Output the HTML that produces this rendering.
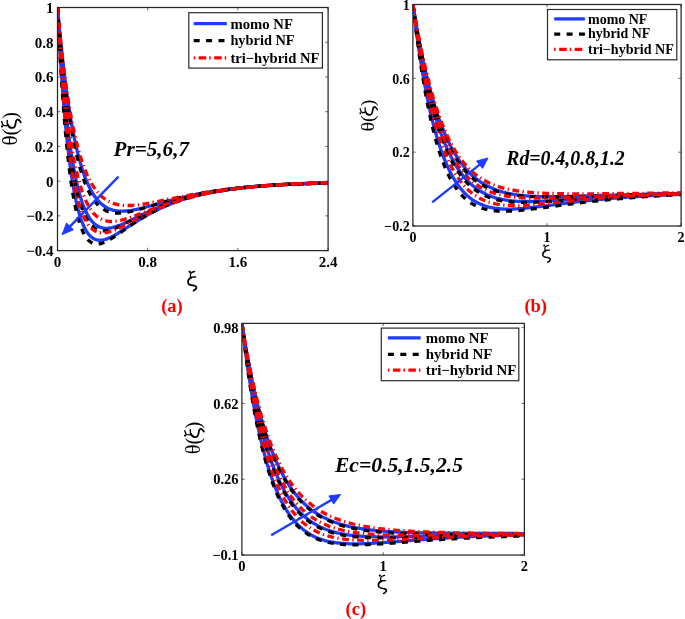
<!DOCTYPE html>
<html><head><meta charset="utf-8"><title>theta profiles</title>
<style>
html,body{margin:0;padding:0;background:#fff;}
body{width:685px;height:619px;overflow:hidden;}
svg{display:block;font-family:"Liberation Serif",serif;will-change:transform;}
</style></head>
<body>
<svg width="685" height="619" viewBox="0 0 685 619">
<rect width="685" height="619" fill="#fff"/>
<defs><clipPath id="ca"><rect x="57.5" y="4.5" width="270.6" height="246.1"/></clipPath><clipPath id="cb"><rect x="412.9" y="1.5" width="268.20000000000005" height="224.5"/></clipPath><clipPath id="cc"><rect x="241.9" y="320.4" width="282.5" height="234.64999999999998"/></clipPath></defs>
<g clip-path="url(#ca)" fill="none">
<polyline points="57.5,7.5 57.8,10.7 58.1,13.9 58.4,17.1 58.6,20.2 58.9,23.3 59.2,26.3 59.5,29.3 59.8,32.2 60.1,35.1 60.3,38.0 60.6,40.8 60.9,43.6 61.2,46.3 61.5,49.0 61.8,51.7 62.0,54.3 62.3,56.9 62.6,59.5 62.9,62.0 63.2,64.5 63.5,66.9 63.7,69.3 64.0,71.7 64.3,74.0 64.6,76.3 64.9,78.6 65.2,80.9 65.4,83.1 65.7,85.2 66.0,87.4 66.3,89.5 66.6,91.6 66.9,93.6 67.1,95.7 67.4,97.7 67.7,99.6 68.0,101.6 68.3,103.5 68.6,105.4 68.8,107.2 69.1,109.0 69.4,110.8 69.7,112.6 70.0,114.3 70.3,116.1 70.5,117.8 70.8,119.4 71.1,121.1 71.4,122.7 71.7,124.3 72.0,125.9 72.2,127.4 72.5,128.9 72.8,130.4 73.1,131.9 73.4,133.4 73.7,134.8 74.0,136.2 74.2,137.6 74.5,139.0 74.8,140.3 75.1,141.7 75.4,143.0 75.7,144.3 75.9,145.5 76.2,146.8 76.5,148.0 76.8,149.2 77.1,150.4 77.4,151.6 77.6,152.7 77.9,153.9 78.2,155.0 78.5,156.1 78.8,157.2 79.1,158.3 79.3,159.3 79.6,160.3 79.9,161.4 80.2,162.4 80.5,163.3 80.8,164.3 81.0,165.3 81.3,166.2 81.6,167.1 81.9,168.0 82.2,168.9 82.5,169.8 82.7,170.7 83.0,171.5 83.3,172.4 83.6,173.2 83.9,174.0 84.2,174.8 84.4,175.6 84.7,176.3 85.0,177.1 85.3,177.8 85.6,178.6 85.9,179.3 86.1,180.0 86.4,180.7 86.7,181.4 87.0,182.0 87.3,182.7 87.6,183.4 87.9,184.0 88.1,184.6 88.4,185.2 88.7,185.8 89.0,186.4 89.3,187.0 89.6,187.6 89.8,188.1 90.1,188.7 90.4,189.2 90.7,189.8 91.0,190.3 91.3,190.8 91.5,191.3 91.8,191.8 92.1,192.3 92.4,192.8 92.7,193.2 93.0,193.7 93.2,194.2 93.5,194.6 93.8,195.0 94.1,195.5 94.4,195.9 94.7,196.3 94.9,196.7 95.2,197.1 95.5,197.5 95.8,197.8 96.1,198.2 96.4,198.6 96.6,198.9 96.9,199.3 97.2,199.6 97.5,200.0 97.8,200.3 98.1,200.6 98.3,200.9 98.6,201.2 98.9,201.5 99.2,201.8 99.5,202.1 99.8,202.4 100.0,202.7 100.3,202.9 100.6,203.2 100.9,203.5 101.2,203.7 101.5,204.0 101.7,204.2 102.0,204.5 102.3,204.7 102.6,204.9 104.5,206.3 106.4,207.4 108.3,208.4 110.2,209.2 112.1,209.8 114.0,210.3 115.9,210.7 117.8,211.0 119.7,211.1 121.5,211.2 123.4,211.1 125.3,211.0 127.2,210.9 129.1,210.6 131.0,210.4 132.9,210.1 134.8,209.7 136.7,209.3 138.6,208.9 140.5,208.5 142.4,208.0 144.3,207.5 146.2,207.0 148.1,206.5 150.0,206.0 151.9,205.5 153.8,205.0 155.7,204.4 157.6,203.9 159.4,203.4 161.3,202.9 163.2,202.3 165.1,201.8 167.0,201.3 168.9,200.8 170.8,200.3 172.7,199.8 174.6,199.3 176.5,198.9 178.4,198.4 180.3,197.9 182.2,197.5 184.1,197.0 186.0,196.6 187.9,196.2 189.8,195.8 191.7,195.3 193.6,195.0 195.5,194.6 197.3,194.2 199.2,193.8 201.1,193.5 203.0,193.1 204.9,192.8 206.8,192.4 208.7,192.1 210.6,191.8 212.5,191.5 214.4,191.2 216.3,190.9 218.2,190.6 220.1,190.3 222.0,190.1 223.9,189.8 225.8,189.6 227.7,189.3 229.6,189.1 231.5,188.8 233.4,188.6 235.2,188.4 237.1,188.2 239.0,188.0 240.9,187.8 242.8,187.6 244.7,187.4 246.6,187.2 248.5,187.0 250.4,186.9 252.3,186.7 254.2,186.5 256.1,186.4 258.0,186.2 259.9,186.1 261.8,185.9 263.7,185.8 265.6,185.7 267.5,185.5 269.4,185.4 271.3,185.3 273.1,185.2 275.0,185.0 276.9,184.9 278.8,184.8 280.7,184.7 282.6,184.6 284.5,184.5 286.4,184.4 288.3,184.3 290.2,184.2 292.1,184.1 294.0,184.1 295.9,184.0 297.8,183.9 299.7,183.8 301.6,183.7 303.5,183.7 305.4,183.6 307.3,183.5 309.2,183.5 311.0,183.4 312.9,183.3 314.8,183.3 316.7,183.2 318.6,183.1 320.5,183.1 322.4,183.0 324.3,183.0 326.2,182.9 328.1,182.9" stroke="#1e3cff" stroke-width="3.3"/>
<polyline points="57.5,7.5 57.8,12.0 58.1,16.4 58.4,20.8 58.6,25.0 58.9,29.2 59.2,33.3 59.5,37.3 59.8,41.3 60.1,45.2 60.3,49.0 60.6,52.8 60.9,56.5 61.2,60.1 61.5,63.7 61.8,67.2 62.0,70.6 62.3,74.0 62.6,77.3 62.9,80.5 63.2,83.7 63.5,86.8 63.7,89.9 64.0,92.9 64.3,95.9 64.6,98.8 64.9,101.7 65.2,104.5 65.4,107.2 65.7,109.9 66.0,112.5 66.3,115.1 66.6,117.7 66.9,120.2 67.1,122.7 67.4,125.1 67.7,127.4 68.0,129.8 68.3,132.0 68.6,134.3 68.8,136.5 69.1,138.6 69.4,140.7 69.7,142.8 70.0,144.8 70.3,146.8 70.5,148.7 70.8,150.7 71.1,152.5 71.4,154.4 71.7,156.2 72.0,157.9 72.2,159.7 72.5,161.4 72.8,163.0 73.1,164.7 73.4,166.3 73.7,167.8 74.0,169.4 74.2,170.9 74.5,172.3 74.8,173.8 75.1,175.2 75.4,176.6 75.7,178.0 75.9,179.3 76.2,180.6 76.5,181.9 76.8,183.1 77.1,184.3 77.4,185.5 77.6,186.7 77.9,187.9 78.2,189.0 78.5,190.1 78.8,191.2 79.1,192.2 79.3,193.2 79.6,194.3 79.9,195.2 80.2,196.2 80.5,197.2 80.8,198.1 81.0,199.0 81.3,199.9 81.6,200.7 81.9,201.6 82.2,202.4 82.5,203.2 82.7,204.0 83.0,204.8 83.3,205.5 83.6,206.2 83.9,207.0 84.2,207.7 84.4,208.3 84.7,209.0 85.0,209.7 85.3,210.3 85.6,210.9 85.9,211.5 86.1,212.1 86.4,212.7 86.7,213.2 87.0,213.8 87.3,214.3 87.6,214.8 87.9,215.3 88.1,215.8 88.4,216.3 88.7,216.8 89.0,217.2 89.3,217.7 89.6,218.1 89.8,218.5 90.1,218.9 90.4,219.3 90.7,219.7 91.0,220.1 91.3,220.4 91.5,220.8 91.8,221.1 92.1,221.5 92.4,221.8 92.7,222.1 93.0,222.4 93.2,222.7 93.5,223.0 93.8,223.2 94.1,223.5 94.4,223.8 94.7,224.0 94.9,224.2 95.2,224.5 95.5,224.7 95.8,224.9 96.1,225.1 96.4,225.3 96.6,225.5 96.9,225.7 97.2,225.8 97.5,226.0 97.8,226.2 98.1,226.3 98.3,226.5 98.6,226.6 98.9,226.7 99.2,226.9 99.5,227.0 99.8,227.1 100.0,227.2 100.3,227.3 100.6,227.4 100.9,227.5 101.2,227.6 101.5,227.7 101.7,227.7 102.0,227.8 102.3,227.9 102.6,227.9 104.5,228.2 106.4,228.3 108.3,228.2 110.2,228.0 112.1,227.6 114.0,227.1 115.9,226.6 117.8,225.9 119.7,225.2 121.5,224.5 123.4,223.7 125.3,222.8 127.2,222.0 129.1,221.1 131.0,220.2 132.9,219.2 134.8,218.3 136.7,217.4 138.6,216.5 140.5,215.5 142.4,214.6 144.3,213.7 146.2,212.8 148.1,211.9 150.0,211.1 151.9,210.2 153.8,209.4 155.7,208.6 157.6,207.8 159.4,207.0 161.3,206.2 163.2,205.5 165.1,204.7 167.0,204.0 168.9,203.3 170.8,202.6 172.7,202.0 174.6,201.3 176.5,200.7 178.4,200.1 180.3,199.5 182.2,199.0 184.1,198.4 186.0,197.9 187.9,197.4 189.8,196.9 191.7,196.4 193.6,195.9 195.5,195.4 197.3,195.0 199.2,194.6 201.1,194.2 203.0,193.8 204.9,193.4 206.8,193.0 208.7,192.6 210.6,192.3 212.5,191.9 214.4,191.6 216.3,191.3 218.2,190.9 220.1,190.6 222.0,190.4 223.9,190.1 225.8,189.8 227.7,189.5 229.6,189.3 231.5,189.0 233.4,188.8 235.2,188.6 237.1,188.3 239.0,188.1 240.9,187.9 242.8,187.7 244.7,187.5 246.6,187.3 248.5,187.1 250.4,186.9 252.3,186.8 254.2,186.6 256.1,186.4 258.0,186.3 259.9,186.1 261.8,186.0 263.7,185.8 265.6,185.7 267.5,185.6 269.4,185.4 271.3,185.3 273.1,185.2 275.0,185.1 276.9,184.9 278.8,184.8 280.7,184.7 282.6,184.6 284.5,184.5 286.4,184.4 288.3,184.3 290.2,184.2 292.1,184.2 294.0,184.1 295.9,184.0 297.8,183.9 299.7,183.8 301.6,183.7 303.5,183.7 305.4,183.6 307.3,183.5 309.2,183.5 311.0,183.4 312.9,183.3 314.8,183.3 316.7,183.2 318.6,183.2 320.5,183.1 322.4,183.0 324.3,183.0 326.2,182.9 328.1,182.9" stroke="#1e3cff" stroke-width="3.3"/>
<polyline points="57.5,7.5 57.8,12.9 58.1,18.2 58.4,23.4 58.6,28.4 58.9,33.4 59.2,38.3 59.5,43.1 59.8,47.8 60.1,52.3 60.3,56.8 60.6,61.2 60.9,65.5 61.2,69.8 61.5,73.9 61.8,77.9 62.0,81.9 62.3,85.8 62.6,89.6 62.9,93.3 63.2,97.0 63.5,100.5 63.7,104.0 64.0,107.5 64.3,110.8 64.6,114.1 64.9,117.3 65.2,120.4 65.4,123.5 65.7,126.5 66.0,129.5 66.3,132.4 66.6,135.2 66.9,138.0 67.1,140.7 67.4,143.3 67.7,145.9 68.0,148.4 68.3,150.9 68.6,153.3 68.8,155.7 69.1,158.0 69.4,160.3 69.7,162.5 70.0,164.6 70.3,166.8 70.5,168.8 70.8,170.9 71.1,172.8 71.4,174.8 71.7,176.7 72.0,178.5 72.2,180.3 72.5,182.1 72.8,183.8 73.1,185.5 73.4,187.1 73.7,188.7 74.0,190.3 74.2,191.8 74.5,193.3 74.8,194.8 75.1,196.2 75.4,197.6 75.7,199.0 75.9,200.3 76.2,201.6 76.5,202.8 76.8,204.1 77.1,205.3 77.4,206.4 77.6,207.6 77.9,208.7 78.2,209.8 78.5,210.8 78.8,211.9 79.1,212.9 79.3,213.8 79.6,214.8 79.9,215.7 80.2,216.6 80.5,217.5 80.8,218.3 81.0,219.2 81.3,220.0 81.6,220.8 81.9,221.5 82.2,222.3 82.5,223.0 82.7,223.7 83.0,224.4 83.3,225.0 83.6,225.7 83.9,226.3 84.2,226.9 84.4,227.5 84.7,228.1 85.0,228.6 85.3,229.2 85.6,229.7 85.9,230.2 86.1,230.7 86.4,231.1 86.7,231.6 87.0,232.0 87.3,232.4 87.6,232.9 87.9,233.3 88.1,233.6 88.4,234.0 88.7,234.4 89.0,234.7 89.3,235.0 89.6,235.3 89.8,235.7 90.1,235.9 90.4,236.2 90.7,236.5 91.0,236.8 91.3,237.0 91.5,237.2 91.8,237.5 92.1,237.7 92.4,237.9 92.7,238.1 93.0,238.3 93.2,238.4 93.5,238.6 93.8,238.8 94.1,238.9 94.4,239.0 94.7,239.2 94.9,239.3 95.2,239.4 95.5,239.5 95.8,239.6 96.1,239.7 96.4,239.8 96.6,239.9 96.9,239.9 97.2,240.0 97.5,240.1 97.8,240.1 98.1,240.1 98.3,240.2 98.6,240.2 98.9,240.2 99.2,240.2 99.5,240.3 99.8,240.3 100.0,240.3 100.3,240.3 100.6,240.2 100.9,240.2 101.2,240.2 101.5,240.2 101.7,240.2 102.0,240.1 102.3,240.1 102.6,240.0 104.5,239.6 106.4,239.1 108.3,238.3 110.2,237.5 112.1,236.6 114.0,235.6 115.9,234.5 117.8,233.4 119.7,232.2 121.5,231.0 123.4,229.8 125.3,228.6 127.2,227.4 129.1,226.1 131.0,224.9 132.9,223.7 134.8,222.5 136.7,221.3 138.6,220.1 140.5,219.0 142.4,217.8 144.3,216.7 146.2,215.7 148.1,214.6 150.0,213.6 151.9,212.6 153.8,211.6 155.7,210.6 157.6,209.7 159.4,208.8 161.3,207.9 163.2,207.0 165.1,206.2 167.0,205.4 168.9,204.6 170.8,203.9 172.7,203.1 174.6,202.4 176.5,201.7 178.4,201.1 180.3,200.4 182.2,199.8 184.1,199.2 186.0,198.6 187.9,198.0 189.8,197.5 191.7,197.0 193.6,196.4 195.5,196.0 197.3,195.5 199.2,195.0 201.1,194.6 203.0,194.1 204.9,193.7 206.8,193.3 208.7,192.9 210.6,192.5 212.5,192.2 214.4,191.8 216.3,191.5 218.2,191.1 220.1,190.8 222.0,190.5 223.9,190.2 225.8,189.9 227.7,189.6 229.6,189.4 231.5,189.1 233.4,188.8 235.2,188.6 237.1,188.4 239.0,188.1 240.9,187.9 242.8,187.7 244.7,187.5 246.6,187.3 248.5,187.1 250.4,186.9 252.3,186.7 254.2,186.6 256.1,186.4 258.0,186.2 259.9,186.1 261.8,185.9 263.7,185.8 265.6,185.6 267.5,185.5 269.4,185.4 271.3,185.2 273.1,185.1 275.0,185.0 276.9,184.9 278.8,184.8 280.7,184.7 282.6,184.5 284.5,184.4 286.4,184.3 288.3,184.3 290.2,184.2 292.1,184.1 294.0,184.0 295.9,183.9 297.8,183.8 299.7,183.7 301.6,183.7 303.5,183.6 305.4,183.5 307.3,183.5 309.2,183.4 311.0,183.3 312.9,183.3 314.8,183.2 316.7,183.1 318.6,183.1 320.5,183.0 322.4,183.0 324.3,182.9 326.2,182.9 328.1,182.8" stroke="#1e3cff" stroke-width="3.3"/>
<polyline points="57.5,7.5 57.8,11.0 58.1,14.4 58.4,17.8 58.6,21.1 58.9,24.4 59.2,27.6 59.5,30.7 59.8,33.9 60.1,37.0 60.3,40.0 60.6,43.0 60.9,45.9 61.2,48.8 61.5,51.7 61.8,54.5 62.0,57.3 62.3,60.0 62.6,62.7 62.9,65.4 63.2,68.0 63.5,70.5 63.7,73.1 64.0,75.6 64.3,78.0 64.6,80.4 64.9,82.8 65.2,85.2 65.4,87.5 65.7,89.7 66.0,92.0 66.3,94.2 66.6,96.4 66.9,98.5 67.1,100.6 67.4,102.7 67.7,104.7 68.0,106.7 68.3,108.7 68.6,110.6 68.8,112.6 69.1,114.4 69.4,116.3 69.7,118.1 70.0,119.9 70.3,121.7 70.5,123.4 70.8,125.1 71.1,126.8 71.4,128.5 71.7,130.1 72.0,131.7 72.2,133.3 72.5,134.9 72.8,136.4 73.1,137.9 73.4,139.4 73.7,140.9 74.0,142.3 74.2,143.7 74.5,145.1 74.8,146.5 75.1,147.8 75.4,149.1 75.7,150.4 75.9,151.7 76.2,153.0 76.5,154.2 76.8,155.4 77.1,156.6 77.4,157.8 77.6,159.0 77.9,160.1 78.2,161.2 78.5,162.3 78.8,163.4 79.1,164.5 79.3,165.5 79.6,166.5 79.9,167.6 80.2,168.5 80.5,169.5 80.8,170.5 81.0,171.4 81.3,172.3 81.6,173.3 81.9,174.2 82.2,175.0 82.5,175.9 82.7,176.7 83.0,177.6 83.3,178.4 83.6,179.2 83.9,180.0 84.2,180.8 84.4,181.5 84.7,182.3 85.0,183.0 85.3,183.7 85.6,184.4 85.9,185.1 86.1,185.8 86.4,186.5 86.7,187.1 87.0,187.8 87.3,188.4 87.6,189.0 87.9,189.6 88.1,190.2 88.4,190.8 88.7,191.4 89.0,192.0 89.3,192.5 89.6,193.1 89.8,193.6 90.1,194.1 90.4,194.6 90.7,195.1 91.0,195.6 91.3,196.1 91.5,196.6 91.8,197.0 92.1,197.5 92.4,197.9 92.7,198.4 93.0,198.8 93.2,199.2 93.5,199.6 93.8,200.0 94.1,200.4 94.4,200.8 94.7,201.2 94.9,201.5 95.2,201.9 95.5,202.2 95.8,202.6 96.1,202.9 96.4,203.2 96.6,203.6 96.9,203.9 97.2,204.2 97.5,204.5 97.8,204.8 98.1,205.1 98.3,205.3 98.6,205.6 98.9,205.9 99.2,206.1 99.5,206.4 99.8,206.6 100.0,206.9 100.3,207.1 100.6,207.3 100.9,207.6 101.2,207.8 101.5,208.0 101.7,208.2 102.0,208.4 102.3,208.6 102.6,208.8 104.5,209.9 106.4,210.9 108.3,211.6 110.2,212.2 112.1,212.6 114.0,212.9 115.9,213.1 117.8,213.1 119.7,213.1 121.5,213.0 123.4,212.8 125.3,212.5 127.2,212.2 129.1,211.9 131.0,211.5 132.9,211.0 134.8,210.6 136.7,210.1 138.6,209.6 140.5,209.0 142.4,208.5 144.3,207.9 146.2,207.4 148.1,206.8 150.0,206.2 151.9,205.7 153.8,205.1 155.7,204.5 157.6,204.0 159.4,203.4 161.3,202.8 163.2,202.3 165.1,201.7 167.0,201.2 168.9,200.7 170.8,200.2 172.7,199.7 174.6,199.2 176.5,198.7 178.4,198.2 180.3,197.7 182.2,197.3 184.1,196.8 186.0,196.4 187.9,196.0 189.8,195.6 191.7,195.2 193.6,194.8 195.5,194.4 197.3,194.0 199.2,193.6 201.1,193.3 203.0,192.9 204.9,192.6 206.8,192.3 208.7,192.0 210.6,191.7 212.5,191.4 214.4,191.1 216.3,190.8 218.2,190.5 220.1,190.3 222.0,190.0 223.9,189.7 225.8,189.5 227.7,189.3 229.6,189.0 231.5,188.8 233.4,188.6 235.2,188.4 237.1,188.2 239.0,188.0 240.9,187.8 242.8,187.6 244.7,187.4 246.6,187.2 248.5,187.1 250.4,186.9 252.3,186.7 254.2,186.6 256.1,186.4 258.0,186.3 259.9,186.1 261.8,186.0 263.7,185.9 265.6,185.7 267.5,185.6 269.4,185.5 271.3,185.4 273.1,185.3 275.0,185.1 276.9,185.0 278.8,184.9 280.7,184.8 282.6,184.7 284.5,184.6 286.4,184.5 288.3,184.4 290.2,184.3 292.1,184.3 294.0,184.2 295.9,184.1 297.8,184.0 299.7,183.9 301.6,183.9 303.5,183.8 305.4,183.7 307.3,183.6 309.2,183.6 311.0,183.5 312.9,183.4 314.8,183.4 316.7,183.3 318.6,183.3 320.5,183.2 322.4,183.2 324.3,183.1 326.2,183.1 328.1,183.0" stroke="#000000" stroke-width="3.3" stroke-dasharray="6 6.4"/>
<polyline points="57.5,7.5 57.8,12.4 58.1,17.1 58.4,21.8 58.6,26.4 58.9,30.9 59.2,35.3 59.5,39.6 59.8,43.8 60.1,48.0 60.3,52.1 60.6,56.1 60.9,60.0 61.2,63.8 61.5,67.6 61.8,71.3 62.0,75.0 62.3,78.5 62.6,82.0 62.9,85.4 63.2,88.8 63.5,92.1 63.7,95.3 64.0,98.5 64.3,101.6 64.6,104.6 64.9,107.6 65.2,110.5 65.4,113.4 65.7,116.2 66.0,118.9 66.3,121.6 66.6,124.2 66.9,126.8 67.1,129.4 67.4,131.8 67.7,134.3 68.0,136.7 68.3,139.0 68.6,141.3 68.8,143.5 69.1,145.7 69.4,147.9 69.7,150.0 70.0,152.0 70.3,154.1 70.5,156.0 70.8,158.0 71.1,159.9 71.4,161.7 71.7,163.6 72.0,165.3 72.2,167.1 72.5,168.8 72.8,170.4 73.1,172.1 73.4,173.7 73.7,175.2 74.0,176.8 74.2,178.3 74.5,179.7 74.8,181.2 75.1,182.6 75.4,183.9 75.7,185.3 75.9,186.6 76.2,187.9 76.5,189.1 76.8,190.3 77.1,191.5 77.4,192.7 77.6,193.9 77.9,195.0 78.2,196.1 78.5,197.1 78.8,198.2 79.1,199.2 79.3,200.2 79.6,201.1 79.9,202.1 80.2,203.0 80.5,203.9 80.8,204.8 81.0,205.7 81.3,206.5 81.6,207.3 81.9,208.1 82.2,208.9 82.5,209.6 82.7,210.4 83.0,211.1 83.3,211.8 83.6,212.5 83.9,213.2 84.2,213.8 84.4,214.4 84.7,215.1 85.0,215.7 85.3,216.2 85.6,216.8 85.9,217.4 86.1,217.9 86.4,218.4 86.7,218.9 87.0,219.4 87.3,219.9 87.6,220.4 87.9,220.8 88.1,221.3 88.4,221.7 88.7,222.1 89.0,222.5 89.3,222.9 89.6,223.3 89.8,223.6 90.1,224.0 90.4,224.3 90.7,224.6 91.0,225.0 91.3,225.3 91.5,225.6 91.8,225.9 92.1,226.1 92.4,226.4 92.7,226.7 93.0,226.9 93.2,227.1 93.5,227.4 93.8,227.6 94.1,227.8 94.4,228.0 94.7,228.2 94.9,228.4 95.2,228.6 95.5,228.7 95.8,228.9 96.1,229.1 96.4,229.2 96.6,229.4 96.9,229.5 97.2,229.6 97.5,229.7 97.8,229.8 98.1,230.0 98.3,230.1 98.6,230.1 98.9,230.2 99.2,230.3 99.5,230.4 99.8,230.5 100.0,230.5 100.3,230.6 100.6,230.6 100.9,230.7 101.2,230.7 101.5,230.8 101.7,230.8 102.0,230.8 102.3,230.8 102.6,230.9 104.5,230.9 106.4,230.7 108.3,230.4 110.2,229.9 112.1,229.4 114.0,228.7 115.9,228.0 117.8,227.2 119.7,226.3 121.5,225.4 123.4,224.5 125.3,223.5 127.2,222.6 129.1,221.6 131.0,220.6 132.9,219.6 134.8,218.6 136.7,217.6 138.6,216.7 140.5,215.7 142.4,214.7 144.3,213.8 146.2,212.9 148.1,212.0 150.0,211.1 151.9,210.2 153.8,209.3 155.7,208.5 157.6,207.7 159.4,206.9 161.3,206.1 163.2,205.4 165.1,204.6 167.0,203.9 168.9,203.2 170.8,202.5 172.7,201.9 174.6,201.2 176.5,200.6 178.4,200.0 180.3,199.4 182.2,198.9 184.1,198.3 186.0,197.8 187.9,197.3 189.8,196.8 191.7,196.3 193.6,195.8 195.5,195.4 197.3,194.9 199.2,194.5 201.1,194.1 203.0,193.7 204.9,193.3 206.8,192.9 208.7,192.6 210.6,192.2 212.5,191.9 214.4,191.5 216.3,191.2 218.2,190.9 220.1,190.6 222.0,190.3 223.9,190.0 225.8,189.8 227.7,189.5 229.6,189.3 231.5,189.0 233.4,188.8 235.2,188.5 237.1,188.3 239.0,188.1 240.9,187.9 242.8,187.7 244.7,187.5 246.6,187.3 248.5,187.1 250.4,187.0 252.3,186.8 254.2,186.6 256.1,186.5 258.0,186.3 259.9,186.1 261.8,186.0 263.7,185.9 265.6,185.7 267.5,185.6 269.4,185.5 271.3,185.3 273.1,185.2 275.0,185.1 276.9,185.0 278.8,184.9 280.7,184.8 282.6,184.7 284.5,184.6 286.4,184.5 288.3,184.4 290.2,184.3 292.1,184.2 294.0,184.1 295.9,184.0 297.8,183.9 299.7,183.9 301.6,183.8 303.5,183.7 305.4,183.7 307.3,183.6 309.2,183.5 311.0,183.5 312.9,183.4 314.8,183.3 316.7,183.3 318.6,183.2 320.5,183.2 322.4,183.1 324.3,183.1 326.2,183.0 328.1,183.0" stroke="#000000" stroke-width="3.3" stroke-dasharray="6 6.4"/>
<polyline points="57.5,7.5 57.8,13.4 58.1,19.2 58.4,24.8 58.6,30.4 58.9,35.8 59.2,41.1 59.5,46.2 59.8,51.3 60.1,56.3 60.3,61.1 60.6,65.8 60.9,70.5 61.2,75.0 61.5,79.4 61.8,83.7 62.0,88.0 62.3,92.1 62.6,96.1 62.9,100.1 63.2,104.0 63.5,107.7 63.7,111.4 64.0,115.0 64.3,118.6 64.6,122.0 64.9,125.4 65.2,128.7 65.4,131.9 65.7,135.0 66.0,138.1 66.3,141.1 66.6,144.0 66.9,146.8 67.1,149.6 67.4,152.4 67.7,155.0 68.0,157.6 68.3,160.2 68.6,162.6 68.8,165.1 69.1,167.4 69.4,169.7 69.7,172.0 70.0,174.2 70.3,176.3 70.5,178.4 70.8,180.4 71.1,182.4 71.4,184.3 71.7,186.2 72.0,188.1 72.2,189.9 72.5,191.6 72.8,193.3 73.1,195.0 73.4,196.6 73.7,198.2 74.0,199.7 74.2,201.2 74.5,202.7 74.8,204.1 75.1,205.5 75.4,206.9 75.7,208.2 75.9,209.5 76.2,210.7 76.5,211.9 76.8,213.1 77.1,214.2 77.4,215.4 77.6,216.4 77.9,217.5 78.2,218.5 78.5,219.5 78.8,220.5 79.1,221.4 79.3,222.3 79.6,223.2 79.9,224.1 80.2,224.9 80.5,225.7 80.8,226.5 81.0,227.3 81.3,228.0 81.6,228.7 81.9,229.4 82.2,230.1 82.5,230.7 82.7,231.4 83.0,232.0 83.3,232.6 83.6,233.1 83.9,233.7 84.2,234.2 84.4,234.7 84.7,235.2 85.0,235.7 85.3,236.1 85.6,236.6 85.9,237.0 86.1,237.4 86.4,237.8 86.7,238.2 87.0,238.6 87.3,238.9 87.6,239.2 87.9,239.6 88.1,239.9 88.4,240.2 88.7,240.5 89.0,240.7 89.3,241.0 89.6,241.2 89.8,241.4 90.1,241.7 90.4,241.9 90.7,242.1 91.0,242.3 91.3,242.4 91.5,242.6 91.8,242.8 92.1,242.9 92.4,243.0 92.7,243.2 93.0,243.3 93.2,243.4 93.5,243.5 93.8,243.6 94.1,243.7 94.4,243.7 94.7,243.8 94.9,243.8 95.2,243.9 95.5,243.9 95.8,244.0 96.1,244.0 96.4,244.0 96.6,244.0 96.9,244.0 97.2,244.0 97.5,244.0 97.8,244.0 98.1,244.0 98.3,244.0 98.6,244.0 98.9,243.9 99.2,243.9 99.5,243.8 99.8,243.8 100.0,243.7 100.3,243.7 100.6,243.6 100.9,243.5 101.2,243.5 101.5,243.4 101.7,243.3 102.0,243.2 102.3,243.1 102.6,243.0 104.5,242.3 106.4,241.4 108.3,240.4 110.2,239.4 112.1,238.2 114.0,237.0 115.9,235.7 117.8,234.4 119.7,233.1 121.5,231.8 123.4,230.5 125.3,229.1 127.2,227.8 129.1,226.5 131.0,225.2 132.9,223.9 134.8,222.7 136.7,221.4 138.6,220.2 140.5,219.0 142.4,217.9 144.3,216.7 146.2,215.6 148.1,214.5 150.0,213.5 151.9,212.5 153.8,211.5 155.7,210.5 157.6,209.6 159.4,208.7 161.3,207.8 163.2,206.9 165.1,206.1 167.0,205.3 168.9,204.5 170.8,203.8 172.7,203.0 174.6,202.3 176.5,201.7 178.4,201.0 180.3,200.3 182.2,199.7 184.1,199.1 186.0,198.5 187.9,198.0 189.8,197.4 191.7,196.9 193.6,196.4 195.5,195.9 197.3,195.4 199.2,195.0 201.1,194.5 203.0,194.1 204.9,193.7 206.8,193.3 208.7,192.9 210.6,192.5 212.5,192.2 214.4,191.8 216.3,191.5 218.2,191.1 220.1,190.8 222.0,190.5 223.9,190.2 225.8,189.9 227.7,189.6 229.6,189.4 231.5,189.1 233.4,188.9 235.2,188.6 237.1,188.4 239.0,188.2 240.9,187.9 242.8,187.7 244.7,187.5 246.6,187.3 248.5,187.1 250.4,186.9 252.3,186.8 254.2,186.6 256.1,186.4 258.0,186.2 259.9,186.1 261.8,185.9 263.7,185.8 265.6,185.6 267.5,185.5 269.4,185.4 271.3,185.2 273.1,185.1 275.0,185.0 276.9,184.9 278.8,184.8 280.7,184.6 282.6,184.5 284.5,184.4 286.4,184.3 288.3,184.2 290.2,184.1 292.1,184.1 294.0,184.0 295.9,183.9 297.8,183.8 299.7,183.7 301.6,183.6 303.5,183.6 305.4,183.5 307.3,183.4 309.2,183.4 311.0,183.3 312.9,183.2 314.8,183.2 316.7,183.1 318.6,183.0 320.5,183.0 322.4,182.9 324.3,182.9 326.2,182.8 328.1,182.8" stroke="#000000" stroke-width="3.3" stroke-dasharray="6 6.4"/>
<polyline points="57.5,7.5 57.8,10.7 58.1,13.9 58.4,17.0 58.6,20.0 58.9,23.1 59.2,26.0 59.5,28.9 59.8,31.8 60.1,34.6 60.3,37.4 60.6,40.2 60.9,42.9 61.2,45.5 61.5,48.1 61.8,50.7 62.0,53.3 62.3,55.8 62.6,58.2 62.9,60.6 63.2,63.0 63.5,65.4 63.7,67.7 64.0,70.0 64.3,72.2 64.6,74.4 64.9,76.6 65.2,78.7 65.4,80.8 65.7,82.9 66.0,85.0 66.3,87.0 66.6,89.0 66.9,90.9 67.1,92.8 67.4,94.7 67.7,96.6 68.0,98.4 68.3,100.2 68.6,102.0 68.8,103.8 69.1,105.5 69.4,107.2 69.7,108.9 70.0,110.5 70.3,112.1 70.5,113.7 70.8,115.3 71.1,116.9 71.4,118.4 71.7,119.9 72.0,121.4 72.2,122.8 72.5,124.3 72.8,125.7 73.1,127.1 73.4,128.5 73.7,129.8 74.0,131.2 74.2,132.5 74.5,133.8 74.8,135.0 75.1,136.3 75.4,137.5 75.7,138.7 75.9,139.9 76.2,141.1 76.5,142.3 76.8,143.4 77.1,144.5 77.4,145.6 77.6,146.7 77.9,147.8 78.2,148.8 78.5,149.9 78.8,150.9 79.1,151.9 79.3,152.9 79.6,153.9 79.9,154.8 80.2,155.8 80.5,156.7 80.8,157.6 81.0,158.5 81.3,159.4 81.6,160.3 81.9,161.2 82.2,162.0 82.5,162.8 82.7,163.7 83.0,164.5 83.3,165.3 83.6,166.0 83.9,166.8 84.2,167.6 84.4,168.3 84.7,169.1 85.0,169.8 85.3,170.5 85.6,171.2 85.9,171.9 86.1,172.6 86.4,173.2 86.7,173.9 87.0,174.5 87.3,175.2 87.6,175.8 87.9,176.4 88.1,177.0 88.4,177.6 88.7,178.2 89.0,178.7 89.3,179.3 89.6,179.9 89.8,180.4 90.1,181.0 90.4,181.5 90.7,182.0 91.0,182.5 91.3,183.0 91.5,183.5 91.8,184.0 92.1,184.5 92.4,184.9 92.7,185.4 93.0,185.9 93.2,186.3 93.5,186.7 93.8,187.2 94.1,187.6 94.4,188.0 94.7,188.4 94.9,188.8 95.2,189.2 95.5,189.6 95.8,190.0 96.1,190.3 96.4,190.7 96.6,191.1 96.9,191.4 97.2,191.8 97.5,192.1 97.8,192.4 98.1,192.8 98.3,193.1 98.6,193.4 98.9,193.7 99.2,194.0 99.5,194.3 99.8,194.6 100.0,194.9 100.3,195.2 100.6,195.5 100.9,195.7 101.2,196.0 101.5,196.3 101.7,196.5 102.0,196.8 102.3,197.0 102.6,197.3 104.5,198.7 106.4,200.0 108.3,201.2 110.2,202.1 112.1,202.9 114.0,203.6 115.9,204.1 117.8,204.6 119.7,204.9 121.5,205.2 123.4,205.4 125.3,205.5 127.2,205.5 129.1,205.5 131.0,205.5 132.9,205.3 134.8,205.2 136.7,205.0 138.6,204.8 140.5,204.5 142.4,204.2 144.3,204.0 146.2,203.6 148.1,203.3 150.0,203.0 151.9,202.6 153.8,202.2 155.7,201.9 157.6,201.5 159.4,201.1 161.3,200.7 163.2,200.3 165.1,199.9 167.0,199.5 168.9,199.1 170.8,198.8 172.7,198.4 174.6,198.0 176.5,197.6 178.4,197.2 180.3,196.9 182.2,196.5 184.1,196.1 186.0,195.8 187.9,195.4 189.8,195.1 191.7,194.7 193.6,194.4 195.5,194.1 197.3,193.8 199.2,193.4 201.1,193.1 203.0,192.8 204.9,192.5 206.8,192.2 208.7,192.0 210.6,191.7 212.5,191.4 214.4,191.1 216.3,190.9 218.2,190.6 220.1,190.4 222.0,190.1 223.9,189.9 225.8,189.7 227.7,189.4 229.6,189.2 231.5,189.0 233.4,188.8 235.2,188.6 237.1,188.4 239.0,188.2 240.9,188.0 242.8,187.8 244.7,187.6 246.6,187.5 248.5,187.3 250.4,187.1 252.3,187.0 254.2,186.8 256.1,186.7 258.0,186.5 259.9,186.4 261.8,186.2 263.7,186.1 265.6,186.0 267.5,185.8 269.4,185.7 271.3,185.6 273.1,185.5 275.0,185.3 276.9,185.2 278.8,185.1 280.7,185.0 282.6,184.9 284.5,184.8 286.4,184.7 288.3,184.6 290.2,184.5 292.1,184.4 294.0,184.3 295.9,184.2 297.8,184.1 299.7,184.1 301.6,184.0 303.5,183.9 305.4,183.8 307.3,183.8 309.2,183.7 311.0,183.6 312.9,183.6 314.8,183.5 316.7,183.4 318.6,183.4 320.5,183.3 322.4,183.2 324.3,183.2 326.2,183.1 328.1,183.1" stroke="#ff0000" stroke-width="3.3" stroke-dasharray="6.8 3.4 1.3 3.5"/>
<polyline points="57.5,7.5 57.8,11.7 58.1,15.8 58.4,19.8 58.6,23.7 58.9,27.6 59.2,31.4 59.5,35.2 59.8,38.9 60.1,42.5 60.3,46.0 60.6,49.5 60.9,53.0 61.2,56.3 61.5,59.6 61.8,62.9 62.0,66.1 62.3,69.2 62.6,72.3 62.9,75.3 63.2,78.3 63.5,81.2 63.7,84.1 64.0,86.9 64.3,89.7 64.6,92.4 64.9,95.1 65.2,97.7 65.4,100.3 65.7,102.8 66.0,105.3 66.3,107.7 66.6,110.1 66.9,112.5 67.1,114.8 67.4,117.0 67.7,119.3 68.0,121.4 68.3,123.6 68.6,125.7 68.8,127.8 69.1,129.8 69.4,131.8 69.7,133.7 70.0,135.6 70.3,137.5 70.5,139.4 70.8,141.2 71.1,143.0 71.4,144.7 71.7,146.4 72.0,148.1 72.2,149.8 72.5,151.4 72.8,153.0 73.1,154.6 73.4,156.1 73.7,157.6 74.0,159.1 74.2,160.5 74.5,161.9 74.8,163.3 75.1,164.7 75.4,166.0 75.7,167.3 75.9,168.6 76.2,169.9 76.5,171.1 76.8,172.3 77.1,173.5 77.4,174.7 77.6,175.9 77.9,177.0 78.2,178.1 78.5,179.2 78.8,180.2 79.1,181.3 79.3,182.3 79.6,183.3 79.9,184.2 80.2,185.2 80.5,186.1 80.8,187.1 81.0,188.0 81.3,188.8 81.6,189.7 81.9,190.6 82.2,191.4 82.5,192.2 82.7,193.0 83.0,193.8 83.3,194.5 83.6,195.3 83.9,196.0 84.2,196.7 84.4,197.4 84.7,198.1 85.0,198.8 85.3,199.4 85.6,200.1 85.9,200.7 86.1,201.3 86.4,201.9 86.7,202.5 87.0,203.1 87.3,203.6 87.6,204.2 87.9,204.7 88.1,205.3 88.4,205.8 88.7,206.3 89.0,206.8 89.3,207.2 89.6,207.7 89.8,208.2 90.1,208.6 90.4,209.0 90.7,209.5 91.0,209.9 91.3,210.3 91.5,210.7 91.8,211.1 92.1,211.4 92.4,211.8 92.7,212.2 93.0,212.5 93.2,212.8 93.5,213.2 93.8,213.5 94.1,213.8 94.4,214.1 94.7,214.4 94.9,214.7 95.2,215.0 95.5,215.2 95.8,215.5 96.1,215.8 96.4,216.0 96.6,216.3 96.9,216.5 97.2,216.7 97.5,216.9 97.8,217.2 98.1,217.4 98.3,217.6 98.6,217.8 98.9,218.0 99.2,218.1 99.5,218.3 99.8,218.5 100.0,218.7 100.3,218.8 100.6,219.0 100.9,219.1 101.2,219.3 101.5,219.4 101.7,219.5 102.0,219.7 102.3,219.8 102.6,219.9 104.5,220.6 106.4,221.0 108.3,221.3 110.2,221.5 112.1,221.5 114.0,221.4 115.9,221.2 117.8,220.9 119.7,220.5 121.5,220.1 123.4,219.6 125.3,219.1 127.2,218.5 129.1,217.9 131.0,217.2 132.9,216.5 134.8,215.9 136.7,215.1 138.6,214.4 140.5,213.7 142.4,213.0 144.3,212.2 146.2,211.5 148.1,210.8 150.0,210.0 151.9,209.3 153.8,208.6 155.7,207.9 157.6,207.2 159.4,206.5 161.3,205.8 163.2,205.2 165.1,204.5 167.0,203.9 168.9,203.2 170.8,202.6 172.7,202.0 174.6,201.4 176.5,200.8 178.4,200.2 180.3,199.7 182.2,199.1 184.1,198.6 186.0,198.1 187.9,197.6 189.8,197.1 191.7,196.6 193.6,196.2 195.5,195.7 197.3,195.3 199.2,194.8 201.1,194.4 203.0,194.0 204.9,193.6 206.8,193.2 208.7,192.8 210.6,192.5 212.5,192.1 214.4,191.8 216.3,191.5 218.2,191.1 220.1,190.8 222.0,190.5 223.9,190.2 225.8,189.9 227.7,189.7 229.6,189.4 231.5,189.1 233.4,188.9 235.2,188.6 237.1,188.4 239.0,188.2 240.9,187.9 242.8,187.7 244.7,187.5 246.6,187.3 248.5,187.1 250.4,186.9 252.3,186.7 254.2,186.6 256.1,186.4 258.0,186.2 259.9,186.0 261.8,185.9 263.7,185.7 265.6,185.6 267.5,185.4 269.4,185.3 271.3,185.2 273.1,185.0 275.0,184.9 276.9,184.8 278.8,184.7 280.7,184.6 282.6,184.4 284.5,184.3 286.4,184.2 288.3,184.1 290.2,184.0 292.1,183.9 294.0,183.9 295.9,183.8 297.8,183.7 299.7,183.6 301.6,183.5 303.5,183.4 305.4,183.4 307.3,183.3 309.2,183.2 311.0,183.2 312.9,183.1 314.8,183.0 316.7,183.0 318.6,182.9 320.5,182.8 322.4,182.8 324.3,182.7 326.2,182.7 328.1,182.6" stroke="#ff0000" stroke-width="3.3" stroke-dasharray="6.8 3.4 1.3 3.5"/>
<polyline points="57.5,7.5 57.8,12.7 58.1,17.7 58.4,22.7 58.6,27.5 58.9,32.3 59.2,36.9 59.5,41.5 59.8,46.0 60.1,50.3 60.3,54.6 60.6,58.8 60.9,62.9 61.2,67.0 61.5,70.9 61.8,74.8 62.0,78.5 62.3,82.2 62.6,85.9 62.9,89.4 63.2,92.9 63.5,96.3 63.7,99.6 64.0,102.9 64.3,106.1 64.6,109.2 64.9,112.2 65.2,115.2 65.4,118.2 65.7,121.0 66.0,123.8 66.3,126.6 66.6,129.3 66.9,131.9 67.1,134.5 67.4,137.0 67.7,139.4 68.0,141.9 68.3,144.2 68.6,146.5 68.8,148.8 69.1,151.0 69.4,153.1 69.7,155.3 70.0,157.3 70.3,159.3 70.5,161.3 70.8,163.3 71.1,165.1 71.4,167.0 71.7,168.8 72.0,170.6 72.2,172.3 72.5,174.0 72.8,175.6 73.1,177.2 73.4,178.8 73.7,180.4 74.0,181.9 74.2,183.3 74.5,184.8 74.8,186.2 75.1,187.5 75.4,188.9 75.7,190.2 75.9,191.5 76.2,192.7 76.5,193.9 76.8,195.1 77.1,196.3 77.4,197.4 77.6,198.5 77.9,199.6 78.2,200.6 78.5,201.7 78.8,202.7 79.1,203.7 79.3,204.6 79.6,205.5 79.9,206.4 80.2,207.3 80.5,208.2 80.8,209.0 81.0,209.8 81.3,210.6 81.6,211.4 81.9,212.2 82.2,212.9 82.5,213.6 82.7,214.3 83.0,215.0 83.3,215.7 83.6,216.3 83.9,216.9 84.2,217.6 84.4,218.1 84.7,218.7 85.0,219.3 85.3,219.8 85.6,220.4 85.9,220.9 86.1,221.4 86.4,221.9 86.7,222.3 87.0,222.8 87.3,223.2 87.6,223.6 87.9,224.1 88.1,224.5 88.4,224.9 88.7,225.2 89.0,225.6 89.3,226.0 89.6,226.3 89.8,226.6 90.1,226.9 90.4,227.3 90.7,227.6 91.0,227.8 91.3,228.1 91.5,228.4 91.8,228.6 92.1,228.9 92.4,229.1 92.7,229.4 93.0,229.6 93.2,229.8 93.5,230.0 93.8,230.2 94.1,230.4 94.4,230.5 94.7,230.7 94.9,230.9 95.2,231.0 95.5,231.2 95.8,231.3 96.1,231.4 96.4,231.6 96.6,231.7 96.9,231.8 97.2,231.9 97.5,232.0 97.8,232.1 98.1,232.2 98.3,232.3 98.6,232.3 98.9,232.4 99.2,232.5 99.5,232.5 99.8,232.6 100.0,232.6 100.3,232.7 100.6,232.7 100.9,232.7 101.2,232.7 101.5,232.8 101.7,232.8 102.0,232.8 102.3,232.8 102.6,232.8 104.5,232.7 106.4,232.5 108.3,232.1 110.2,231.6 112.1,231.0 114.0,230.3 115.9,229.5 117.8,228.7 119.7,227.8 121.5,226.9 123.4,226.0 125.3,225.1 127.2,224.1 129.1,223.1 131.0,222.1 132.9,221.1 134.8,220.1 136.7,219.1 138.6,218.2 140.5,217.2 142.4,216.2 144.3,215.3 146.2,214.4 148.1,213.4 150.0,212.5 151.9,211.7 153.8,210.8 155.7,209.9 157.6,209.1 159.4,208.3 161.3,207.5 163.2,206.7 165.1,206.0 167.0,205.2 168.9,204.5 170.8,203.8 172.7,203.1 174.6,202.5 176.5,201.8 178.4,201.2 180.3,200.6 182.2,200.0 184.1,199.4 186.0,198.8 187.9,198.3 189.8,197.7 191.7,197.2 193.6,196.7 195.5,196.2 197.3,195.8 199.2,195.3 201.1,194.9 203.0,194.4 204.9,194.0 206.8,193.6 208.7,193.2 210.6,192.8 212.5,192.5 214.4,192.1 216.3,191.7 218.2,191.4 220.1,191.1 222.0,190.8 223.9,190.5 225.8,190.2 227.7,189.9 229.6,189.6 231.5,189.3 233.4,189.1 235.2,188.8 237.1,188.6 239.0,188.3 240.9,188.1 242.8,187.9 244.7,187.6 246.6,187.4 248.5,187.2 250.4,187.0 252.3,186.8 254.2,186.7 256.1,186.5 258.0,186.3 259.9,186.1 261.8,186.0 263.7,185.8 265.6,185.7 267.5,185.5 269.4,185.4 271.3,185.2 273.1,185.1 275.0,185.0 276.9,184.8 278.8,184.7 280.7,184.6 282.6,184.5 284.5,184.4 286.4,184.3 288.3,184.2 290.2,184.1 292.1,184.0 294.0,183.9 295.9,183.8 297.8,183.7 299.7,183.6 301.6,183.5 303.5,183.5 305.4,183.4 307.3,183.3 309.2,183.2 311.0,183.2 312.9,183.1 314.8,183.0 316.7,183.0 318.6,182.9 320.5,182.9 322.4,182.8 324.3,182.7 326.2,182.7 328.1,182.6" stroke="#ff0000" stroke-width="3.3" stroke-dasharray="6.8 3.4 1.3 3.5"/>
</g>
<g stroke="#555" stroke-width="0.9" fill="none">
<line x1="57.50" y1="250.60" x2="57.50" y2="247.80"/>
<line x1="57.50" y1="7.50" x2="57.50" y2="10.30"/>
<line x1="147.70" y1="250.60" x2="147.70" y2="247.80"/>
<line x1="147.70" y1="7.50" x2="147.70" y2="10.30"/>
<line x1="237.90" y1="250.60" x2="237.90" y2="247.80"/>
<line x1="237.90" y1="7.50" x2="237.90" y2="10.30"/>
<line x1="328.10" y1="250.60" x2="328.10" y2="247.80"/>
<line x1="328.10" y1="7.50" x2="328.10" y2="10.30"/>
<line x1="57.50" y1="7.50" x2="60.30" y2="7.50"/>
<line x1="328.10" y1="7.50" x2="325.30" y2="7.50"/>
<line x1="57.50" y1="42.23" x2="60.30" y2="42.23"/>
<line x1="328.10" y1="42.23" x2="325.30" y2="42.23"/>
<line x1="57.50" y1="76.96" x2="60.30" y2="76.96"/>
<line x1="328.10" y1="76.96" x2="325.30" y2="76.96"/>
<line x1="57.50" y1="111.69" x2="60.30" y2="111.69"/>
<line x1="328.10" y1="111.69" x2="325.30" y2="111.69"/>
<line x1="57.50" y1="146.41" x2="60.30" y2="146.41"/>
<line x1="328.10" y1="146.41" x2="325.30" y2="146.41"/>
<line x1="57.50" y1="181.14" x2="60.30" y2="181.14"/>
<line x1="328.10" y1="181.14" x2="325.30" y2="181.14"/>
<line x1="57.50" y1="215.87" x2="60.30" y2="215.87"/>
<line x1="328.10" y1="215.87" x2="325.30" y2="215.87"/>
<line x1="57.50" y1="250.60" x2="60.30" y2="250.60"/>
<line x1="328.10" y1="250.60" x2="325.30" y2="250.60"/>
</g>
<rect x="57.50" y="7.50" width="270.60" height="243.10" fill="none" stroke="#262626" stroke-width="1.25"/>
<text x="53.60" y="12.90" font-size="15" text-anchor="end" font-weight="bold" font-style="normal" fill="#000" >1</text>
<text x="53.60" y="47.63" font-size="15" text-anchor="end" font-weight="bold" font-style="normal" fill="#000" >0.8</text>
<text x="53.60" y="82.36" font-size="15" text-anchor="end" font-weight="bold" font-style="normal" fill="#000" >0.6</text>
<text x="53.60" y="117.09" font-size="15" text-anchor="end" font-weight="bold" font-style="normal" fill="#000" >0.4</text>
<text x="53.60" y="151.81" font-size="15" text-anchor="end" font-weight="bold" font-style="normal" fill="#000" >0.2</text>
<text x="53.60" y="186.54" font-size="15" text-anchor="end" font-weight="bold" font-style="normal" fill="#000" >0</text>
<text x="53.60" y="221.27" font-size="15" text-anchor="end" font-weight="bold" font-style="normal" fill="#000" >&#8722;0.2</text>
<text x="53.60" y="256.00" font-size="15" text-anchor="end" font-weight="bold" font-style="normal" fill="#000" >&#8722;0.4</text>
<text x="57.50" y="267.20" font-size="15" text-anchor="middle" font-weight="bold" font-style="normal" fill="#000" >0</text>
<text x="147.70" y="267.20" font-size="15" text-anchor="middle" font-weight="bold" font-style="normal" fill="#000" >0.8</text>
<text x="237.90" y="267.20" font-size="15" text-anchor="middle" font-weight="bold" font-style="normal" fill="#000" >1.6</text>
<text x="328.10" y="267.20" font-size="15" text-anchor="middle" font-weight="bold" font-style="normal" fill="#000" >2.4</text>
<g transform="translate(183.00,266.00) scale(1.0)" fill="none" stroke="#000" stroke-linecap="round"><path d="M11.6 5.5 C9.6 5.9 7.9 6.5 7.5 7.7 L7.4 11.2 M7.4 11.2 L12.6 11.0" stroke-width="1.35"/><path d="M8.6 11.6 C5.6 12.6 4.6 15 5.3 17.3 C6.3 19.6 10 19.1 12.4 20.0 C14.2 20.9 13.8 23 10.6 24.6" stroke-width="1.75"/><circle cx="6.6" cy="5.8" r="1.15" fill="#000" stroke="none"/></g>
<g transform="translate(17.00,145.60) rotate(-90) scale(1.000,1.000)"><text x="0" y="0" font-size="21" font-weight="normal" fill="#000">&#952;(</text><g transform="translate(12.60,-20.80) scale(1.0)" fill="none" stroke="#000" stroke-linecap="round"><path d="M11.6 5.5 C9.6 5.9 7.9 6.5 7.5 7.7 L7.4 11.2 M7.4 11.2 L12.6 11.0" stroke-width="1.35"/><path d="M8.6 11.6 C5.6 12.6 4.6 15 5.3 17.3 C6.3 19.6 10 19.1 12.4 20.0 C14.2 20.9 13.8 23 10.6 24.6" stroke-width="1.75"/><circle cx="6.6" cy="5.8" r="1.15" fill="#000" stroke="none"/></g><text x="26.6" y="0" font-size="21" font-weight="normal" fill="#000">)</text></g>
<rect x="188.8" y="12.7" width="133.6" height="55.4" fill="#fff" stroke="#2a2a2a" stroke-width="1.2"/>
<line x1="193.7" y1="23.7" x2="226.8" y2="23.7" fill="none" stroke="#1e3cff" stroke-width="3.3" stroke-dashoffset="0"/>
<text x="230.40" y="28.60" font-size="14.5" text-anchor="start" font-weight="bold" font-style="normal" fill="#000" textLength="62.5" lengthAdjust="spacingAndGlyphs" >momo NF</text>
<line x1="193.7" y1="40.7" x2="226.8" y2="40.7" fill="none" stroke="#000000" stroke-width="3.3" stroke-dasharray="6 6.4" stroke-dashoffset="0"/>
<text x="230.40" y="45.40" font-size="14.5" text-anchor="start" font-weight="bold" font-style="normal" fill="#000" textLength="64.2" lengthAdjust="spacingAndGlyphs" >hybrid NF</text>
<line x1="193.7" y1="57.8" x2="226.8" y2="57.8" fill="none" stroke="#ff0000" stroke-width="3.3" stroke-dasharray="1.5 3.5 7.5 3"/>
<text x="230.40" y="62.90" font-size="14.5" text-anchor="start" font-weight="bold" font-style="normal" fill="#000" textLength="89.0" lengthAdjust="spacingAndGlyphs" >tri&#8722;hybrid NF</text>
<text x="113.50" y="155.70" font-size="21" text-anchor="start" font-weight="bold" font-style="italic" fill="#000" textLength="75.5" lengthAdjust="spacingAndGlyphs" >Pr=5,6,7</text>
<line x1="118.5" y1="176.6" x2="68.4" y2="228.1" stroke="#1e3cff" stroke-width="2.4"/><polygon points="62.0,234.7 66.6,223.1 73.4,229.8" fill="#1e3cff" stroke="#1e3cff" stroke-width="1" stroke-linejoin="round"/>
<text x="172.00" y="312.00" font-size="18.5" text-anchor="middle" font-weight="bold" font-style="normal" fill="#ff0000" >(a)</text>
<g clip-path="url(#cb)" fill="none">
<polyline points="412.9,4.5 413.2,7.3 413.6,10.1 413.9,12.8 414.2,15.5 414.6,18.2 414.9,20.8 415.3,23.4 415.6,26.0 415.9,28.5 416.3,31.0 416.6,33.5 416.9,35.9 417.3,38.4 417.6,40.7 418.0,43.1 418.3,45.4 418.6,47.7 419.0,50.0 419.3,52.2 419.6,54.4 420.0,56.6 420.3,58.8 420.7,60.9 421.0,63.0 421.3,65.1 421.7,67.2 422.0,69.2 422.3,71.2 422.7,73.2 423.0,75.1 423.4,77.1 423.7,79.0 424.0,80.8 424.4,82.7 424.7,84.5 425.0,86.3 425.4,88.1 425.7,89.9 426.1,91.6 426.4,93.4 426.7,95.1 427.1,96.7 427.4,98.4 427.7,100.0 428.1,101.7 428.4,103.2 428.8,104.8 429.1,106.4 429.4,107.9 429.8,109.4 430.1,110.9 430.4,112.4 430.8,113.8 431.1,115.3 431.5,116.7 431.8,118.1 432.1,119.5 432.5,120.9 432.8,122.2 433.1,123.5 433.5,124.8 433.8,126.1 434.2,127.4 434.5,128.7 434.8,129.9 435.2,131.1 435.5,132.4 435.8,133.6 436.2,134.7 436.5,135.9 436.9,137.1 437.2,138.2 437.5,139.3 437.9,140.4 438.2,141.5 438.5,142.6 438.9,143.6 439.2,144.7 439.6,145.7 439.9,146.7 440.2,147.8 440.6,148.7 440.9,149.7 441.2,150.7 441.6,151.6 441.9,152.6 442.3,153.5 442.6,154.4 442.9,155.3 443.3,156.2 443.6,157.1 443.9,158.0 444.3,158.8 444.6,159.7 444.9,160.5 445.3,161.3 445.6,162.1 446.0,162.9 446.3,163.7 446.6,164.5 447.0,165.2 447.3,166.0 447.6,166.7 448.0,167.5 448.3,168.2 448.7,168.9 449.0,169.6 449.3,170.3 449.7,171.0 450.0,171.6 450.3,172.3 450.7,173.0 451.0,173.6 451.4,174.2 451.7,174.9 452.0,175.5 452.4,176.1 452.7,176.7 453.0,177.3 453.4,177.9 453.7,178.4 454.1,179.0 454.4,179.6 454.7,180.1 455.1,180.7 455.4,181.2 455.7,181.7 456.1,182.2 456.4,182.7 456.8,183.2 457.1,183.7 457.4,184.2 457.8,184.7 458.1,185.2 458.4,185.6 458.8,186.1 459.1,186.6 459.5,187.0 459.8,187.4 460.1,187.9 460.5,188.3 460.8,188.7 461.1,189.1 461.5,189.5 461.8,189.9 462.2,190.3 462.5,190.7 462.8,191.1 463.2,191.5 463.5,191.8 463.8,192.2 464.2,192.6 464.5,192.9 464.9,193.3 465.2,193.6 465.5,193.9 465.9,194.3 466.2,194.6 466.5,194.9 468.3,196.5 470.1,198.0 471.9,199.3 473.8,200.6 475.6,201.7 477.4,202.7 479.2,203.6 481.0,204.4 482.8,205.1 484.6,205.8 486.4,206.4 488.2,206.9 490.0,207.3 491.8,207.7 493.6,208.0 495.4,208.3 497.2,208.5 499.0,208.7 500.8,208.9 502.6,209.0 504.4,209.1 506.2,209.1 508.0,209.1 509.8,209.1 511.6,209.1 513.4,209.0 515.2,208.9 517.0,208.8 518.8,208.7 520.6,208.6 522.4,208.4 524.2,208.3 526.0,208.1 527.8,207.9 529.6,207.7 531.4,207.5 533.3,207.3 535.1,207.1 536.9,206.9 538.7,206.7 540.5,206.5 542.3,206.2 544.1,206.0 545.9,205.8 547.7,205.6 549.5,205.3 551.3,205.1 553.1,204.9 554.9,204.6 556.7,204.4 558.5,204.2 560.3,203.9 562.1,203.7 563.9,203.5 565.7,203.2 567.5,203.0 569.3,202.8 571.1,202.6 572.9,202.4 574.7,202.1 576.5,201.9 578.3,201.7 580.1,201.5 581.9,201.3 583.7,201.1 585.5,200.9 587.3,200.7 589.1,200.5 590.9,200.3 592.8,200.2 594.6,200.0 596.4,199.8 598.2,199.6 600.0,199.4 601.8,199.3 603.6,199.1 605.4,198.9 607.2,198.8 609.0,198.6 610.8,198.5 612.6,198.3 614.4,198.2 616.2,198.0 618.0,197.9 619.8,197.7 621.6,197.6 623.4,197.5 625.2,197.3 627.0,197.2 628.8,197.1 630.6,197.0 632.4,196.8 634.2,196.7 636.0,196.6 637.8,196.5 639.6,196.4 641.4,196.3 643.2,196.2 645.0,196.1 646.8,195.9 648.6,195.8 650.4,195.7 652.3,195.7 654.1,195.6 655.9,195.5 657.7,195.4 659.5,195.3 661.3,195.2 663.1,195.1 664.9,195.0 666.7,194.9 668.5,194.9 670.3,194.8 672.1,194.7 673.9,194.6 675.7,194.6 677.5,194.5 679.3,194.4 681.1,194.3" stroke="#1e3cff" stroke-width="3.3"/>
<polyline points="412.9,4.5 413.2,6.9 413.6,9.2 413.9,11.5 414.2,13.8 414.6,16.0 414.9,18.2 415.3,20.5 415.6,22.6 415.9,24.8 416.3,26.9 416.6,29.0 416.9,31.1 417.3,33.2 417.6,35.2 418.0,37.3 418.3,39.3 418.6,41.2 419.0,43.2 419.3,45.1 419.6,47.0 420.0,48.9 420.3,50.8 420.7,52.7 421.0,54.5 421.3,56.3 421.7,58.1 422.0,59.9 422.3,61.6 422.7,63.4 423.0,65.1 423.4,66.8 423.7,68.5 424.0,70.1 424.4,71.8 424.7,73.4 425.0,75.0 425.4,76.6 425.7,78.1 426.1,79.7 426.4,81.2 426.7,82.7 427.1,84.2 427.4,85.7 427.7,87.2 428.1,88.7 428.4,90.1 428.8,91.5 429.1,92.9 429.4,94.3 429.8,95.7 430.1,97.0 430.4,98.4 430.8,99.7 431.1,101.0 431.5,102.3 431.8,103.6 432.1,104.9 432.5,106.1 432.8,107.4 433.1,108.6 433.5,109.8 433.8,111.0 434.2,112.2 434.5,113.3 434.8,114.5 435.2,115.6 435.5,116.8 435.8,117.9 436.2,119.0 436.5,120.1 436.9,121.2 437.2,122.2 437.5,123.3 437.9,124.3 438.2,125.4 438.5,126.4 438.9,127.4 439.2,128.4 439.6,129.4 439.9,130.4 440.2,131.3 440.6,132.3 440.9,133.2 441.2,134.1 441.6,135.1 441.9,136.0 442.3,136.9 442.6,137.8 442.9,138.6 443.3,139.5 443.6,140.4 443.9,141.2 444.3,142.0 444.6,142.9 444.9,143.7 445.3,144.5 445.6,145.3 446.0,146.1 446.3,146.9 446.6,147.6 447.0,148.4 447.3,149.1 447.6,149.9 448.0,150.6 448.3,151.3 448.7,152.1 449.0,152.8 449.3,153.5 449.7,154.2 450.0,154.8 450.3,155.5 450.7,156.2 451.0,156.8 451.4,157.5 451.7,158.1 452.0,158.8 452.4,159.4 452.7,160.0 453.0,160.6 453.4,161.2 453.7,161.8 454.1,162.4 454.4,163.0 454.7,163.6 455.1,164.1 455.4,164.7 455.7,165.2 456.1,165.8 456.4,166.3 456.8,166.9 457.1,167.4 457.4,167.9 457.8,168.4 458.1,168.9 458.4,169.4 458.8,169.9 459.1,170.4 459.5,170.9 459.8,171.4 460.1,171.8 460.5,172.3 460.8,172.8 461.1,173.2 461.5,173.7 461.8,174.1 462.2,174.5 462.5,175.0 462.8,175.4 463.2,175.8 463.5,176.2 463.8,176.6 464.2,177.0 464.5,177.4 464.9,177.8 465.2,178.2 465.5,178.6 465.9,179.0 466.2,179.4 466.5,179.7 468.3,181.6 470.1,183.4 471.9,185.0 473.8,186.5 475.6,187.9 477.4,189.2 479.2,190.4 481.0,191.5 482.8,192.6 484.6,193.5 486.4,194.4 488.2,195.2 490.0,195.9 491.8,196.6 493.6,197.2 495.4,197.8 497.2,198.3 499.0,198.7 500.8,199.1 502.6,199.5 504.4,199.8 506.2,200.1 508.0,200.4 509.8,200.6 511.6,200.8 513.4,201.0 515.2,201.1 517.0,201.3 518.8,201.4 520.6,201.4 522.4,201.5 524.2,201.5 526.0,201.5 527.8,201.5 529.6,201.5 531.4,201.5 533.3,201.5 535.1,201.4 536.9,201.4 538.7,201.3 540.5,201.2 542.3,201.2 544.1,201.1 545.9,201.0 547.7,200.9 549.5,200.8 551.3,200.7 553.1,200.6 554.9,200.4 556.7,200.3 558.5,200.2 560.3,200.1 562.1,199.9 563.9,199.8 565.7,199.7 567.5,199.6 569.3,199.4 571.1,199.3 572.9,199.2 574.7,199.0 576.5,198.9 578.3,198.8 580.1,198.6 581.9,198.5 583.7,198.4 585.5,198.3 587.3,198.1 589.1,198.0 590.9,197.9 592.8,197.7 594.6,197.6 596.4,197.5 598.2,197.4 600.0,197.3 601.8,197.2 603.6,197.0 605.4,196.9 607.2,196.8 609.0,196.7 610.8,196.6 612.6,196.5 614.4,196.4 616.2,196.3 618.0,196.2 619.8,196.1 621.6,196.0 623.4,195.9 625.2,195.8 627.0,195.7 628.8,195.6 630.6,195.5 632.4,195.5 634.2,195.4 636.0,195.3 637.8,195.2 639.6,195.1 641.4,195.0 643.2,195.0 645.0,194.9 646.8,194.8 648.6,194.8 650.4,194.7 652.3,194.6 654.1,194.6 655.9,194.5 657.7,194.4 659.5,194.4 661.3,194.3 663.1,194.2 664.9,194.2 666.7,194.1 668.5,194.1 670.3,194.0 672.1,194.0 673.9,193.9 675.7,193.9 677.5,193.8 679.3,193.8 681.1,193.7" stroke="#1e3cff" stroke-width="3.3"/>
<polyline points="412.9,4.5 413.2,6.6 413.6,8.8 413.9,10.9 414.2,13.0 414.6,15.0 414.9,17.0 415.3,19.1 415.6,21.1 415.9,23.0 416.3,25.0 416.6,26.9 416.9,28.8 417.3,30.7 417.6,32.6 418.0,34.5 418.3,36.3 418.6,38.1 419.0,39.9 419.3,41.7 419.6,43.5 420.0,45.2 420.3,46.9 420.7,48.6 421.0,50.3 421.3,52.0 421.7,53.6 422.0,55.3 422.3,56.9 422.7,58.5 423.0,60.1 423.4,61.7 423.7,63.2 424.0,64.7 424.4,66.3 424.7,67.8 425.0,69.2 425.4,70.7 425.7,72.2 426.1,73.6 426.4,75.0 426.7,76.5 427.1,77.9 427.4,79.2 427.7,80.6 428.1,82.0 428.4,83.3 428.8,84.6 429.1,85.9 429.4,87.2 429.8,88.5 430.1,89.8 430.4,91.0 430.8,92.3 431.1,93.5 431.5,94.7 431.8,95.9 432.1,97.1 432.5,98.3 432.8,99.4 433.1,100.6 433.5,101.7 433.8,102.9 434.2,104.0 434.5,105.1 434.8,106.2 435.2,107.3 435.5,108.3 435.8,109.4 436.2,110.4 436.5,111.5 436.9,112.5 437.2,113.5 437.5,114.5 437.9,115.5 438.2,116.5 438.5,117.4 438.9,118.4 439.2,119.3 439.6,120.3 439.9,121.2 440.2,122.1 440.6,123.0 440.9,123.9 441.2,124.8 441.6,125.7 441.9,126.6 442.3,127.4 442.6,128.3 442.9,129.1 443.3,129.9 443.6,130.8 443.9,131.6 444.3,132.4 444.6,133.2 444.9,134.0 445.3,134.7 445.6,135.5 446.0,136.3 446.3,137.0 446.6,137.8 447.0,138.5 447.3,139.2 447.6,140.0 448.0,140.7 448.3,141.4 448.7,142.1 449.0,142.8 449.3,143.4 449.7,144.1 450.0,144.8 450.3,145.4 450.7,146.1 451.0,146.7 451.4,147.4 451.7,148.0 452.0,148.6 452.4,149.2 452.7,149.9 453.0,150.5 453.4,151.0 453.7,151.6 454.1,152.2 454.4,152.8 454.7,153.4 455.1,153.9 455.4,154.5 455.7,155.0 456.1,155.6 456.4,156.1 456.8,156.6 457.1,157.2 457.4,157.7 457.8,158.2 458.1,158.7 458.4,159.2 458.8,159.7 459.1,160.2 459.5,160.7 459.8,161.2 460.1,161.6 460.5,162.1 460.8,162.6 461.1,163.0 461.5,163.5 461.8,163.9 462.2,164.4 462.5,164.8 462.8,165.2 463.2,165.7 463.5,166.1 463.8,166.5 464.2,166.9 464.5,167.3 464.9,167.7 465.2,168.1 465.5,168.5 465.9,168.9 466.2,169.3 466.5,169.7 468.3,171.6 470.1,173.4 471.9,175.2 473.8,176.8 475.6,178.3 477.4,179.7 479.2,181.0 481.0,182.3 482.8,183.4 484.6,184.5 486.4,185.5 488.2,186.4 490.0,187.3 491.8,188.1 493.6,188.9 495.4,189.6 497.2,190.3 499.0,190.9 500.8,191.4 502.6,192.0 504.4,192.4 506.2,192.9 508.0,193.3 509.8,193.7 511.6,194.0 513.4,194.3 515.2,194.6 517.0,194.9 518.8,195.1 520.6,195.3 522.4,195.5 524.2,195.7 526.0,195.9 527.8,196.0 529.6,196.2 531.4,196.3 533.3,196.4 535.1,196.4 536.9,196.5 538.7,196.6 540.5,196.6 542.3,196.7 544.1,196.7 545.9,196.7 547.7,196.7 549.5,196.7 551.3,196.7 553.1,196.7 554.9,196.7 556.7,196.7 558.5,196.7 560.3,196.7 562.1,196.6 563.9,196.6 565.7,196.6 567.5,196.5 569.3,196.5 571.1,196.4 572.9,196.4 574.7,196.3 576.5,196.3 578.3,196.2 580.1,196.2 581.9,196.1 583.7,196.1 585.5,196.0 587.3,196.0 589.1,195.9 590.9,195.8 592.8,195.8 594.6,195.7 596.4,195.7 598.2,195.6 600.0,195.5 601.8,195.5 603.6,195.4 605.4,195.4 607.2,195.3 609.0,195.3 610.8,195.2 612.6,195.1 614.4,195.1 616.2,195.0 618.0,195.0 619.8,194.9 621.6,194.9 623.4,194.8 625.2,194.8 627.0,194.7 628.8,194.7 630.6,194.6 632.4,194.6 634.2,194.5 636.0,194.5 637.8,194.4 639.6,194.4 641.4,194.3 643.2,194.3 645.0,194.2 646.8,194.2 648.6,194.1 650.4,194.1 652.3,194.1 654.1,194.0 655.9,194.0 657.7,193.9 659.5,193.9 661.3,193.9 663.1,193.8 664.9,193.8 666.7,193.7 668.5,193.7 670.3,193.7 672.1,193.6 673.9,193.6 675.7,193.6 677.5,193.5 679.3,193.5 681.1,193.5" stroke="#1e3cff" stroke-width="3.3"/>
<polyline points="412.9,4.5 413.2,7.4 413.6,10.2 413.9,13.1 414.2,15.9 414.6,18.7 414.9,21.4 415.3,24.1 415.6,26.8 415.9,29.5 416.3,32.1 416.6,34.7 416.9,37.3 417.3,39.8 417.6,42.4 418.0,44.8 418.3,47.3 418.6,49.7 419.0,52.1 419.3,54.5 419.6,56.9 420.0,59.2 420.3,61.5 420.7,63.8 421.0,66.0 421.3,68.2 421.7,70.4 422.0,72.5 422.3,74.7 422.7,76.8 423.0,78.8 423.4,80.9 423.7,82.9 424.0,84.9 424.4,86.9 424.7,88.8 425.0,90.7 425.4,92.6 425.7,94.5 426.1,96.3 426.4,98.2 426.7,100.0 427.1,101.7 427.4,103.5 427.7,105.2 428.1,106.9 428.4,108.6 428.8,110.2 429.1,111.8 429.4,113.5 429.8,115.0 430.1,116.6 430.4,118.2 430.8,119.7 431.1,121.2 431.5,122.7 431.8,124.1 432.1,125.5 432.5,127.0 432.8,128.4 433.1,129.7 433.5,131.1 433.8,132.4 434.2,133.8 434.5,135.1 434.8,136.3 435.2,137.6 435.5,138.8 435.8,140.1 436.2,141.3 436.5,142.5 436.9,143.7 437.2,144.8 437.5,146.0 437.9,147.1 438.2,148.2 438.5,149.3 438.9,150.3 439.2,151.4 439.6,152.5 439.9,153.5 440.2,154.5 440.6,155.5 440.9,156.5 441.2,157.4 441.6,158.4 441.9,159.3 442.3,160.3 442.6,161.2 442.9,162.1 443.3,163.0 443.6,163.8 443.9,164.7 444.3,165.5 444.6,166.4 444.9,167.2 445.3,168.0 445.6,168.8 446.0,169.6 446.3,170.3 446.6,171.1 447.0,171.9 447.3,172.6 447.6,173.3 448.0,174.0 448.3,174.7 448.7,175.4 449.0,176.1 449.3,176.8 449.7,177.4 450.0,178.1 450.3,178.7 450.7,179.3 451.0,180.0 451.4,180.6 451.7,181.2 452.0,181.8 452.4,182.3 452.7,182.9 453.0,183.5 453.4,184.0 453.7,184.6 454.1,185.1 454.4,185.6 454.7,186.1 455.1,186.7 455.4,187.2 455.7,187.7 456.1,188.1 456.4,188.6 456.8,189.1 457.1,189.5 457.4,190.0 457.8,190.4 458.1,190.9 458.4,191.3 458.8,191.7 459.1,192.2 459.5,192.6 459.8,193.0 460.1,193.4 460.5,193.8 460.8,194.1 461.1,194.5 461.5,194.9 461.8,195.2 462.2,195.6 462.5,196.0 462.8,196.3 463.2,196.6 463.5,197.0 463.8,197.3 464.2,197.6 464.5,197.9 464.9,198.2 465.2,198.6 465.5,198.9 465.9,199.1 466.2,199.4 466.5,199.7 468.3,201.1 470.1,202.4 471.9,203.6 473.8,204.7 475.6,205.6 477.4,206.4 479.2,207.2 481.0,207.9 482.8,208.5 484.6,209.0 486.4,209.4 488.2,209.8 490.0,210.1 491.8,210.4 493.6,210.6 495.4,210.8 497.2,211.0 499.0,211.1 500.8,211.1 502.6,211.2 504.4,211.2 506.2,211.2 508.0,211.1 509.8,211.0 511.6,211.0 513.4,210.9 515.2,210.7 517.0,210.6 518.8,210.5 520.6,210.3 522.4,210.1 524.2,209.9 526.0,209.7 527.8,209.5 529.6,209.3 531.4,209.1 533.3,208.9 535.1,208.7 536.9,208.5 538.7,208.2 540.5,208.0 542.3,207.8 544.1,207.5 545.9,207.3 547.7,207.0 549.5,206.8 551.3,206.6 553.1,206.3 554.9,206.1 556.7,205.8 558.5,205.6 560.3,205.4 562.1,205.1 563.9,204.9 565.7,204.7 567.5,204.4 569.3,204.2 571.1,204.0 572.9,203.7 574.7,203.5 576.5,203.3 578.3,203.1 580.1,202.9 581.9,202.7 583.7,202.4 585.5,202.2 587.3,202.0 589.1,201.8 590.9,201.6 592.8,201.4 594.6,201.2 596.4,201.0 598.2,200.8 600.0,200.6 601.8,200.5 603.6,200.3 605.4,200.1 607.2,199.9 609.0,199.7 610.8,199.6 612.6,199.4 614.4,199.2 616.2,199.1 618.0,198.9 619.8,198.7 621.6,198.6 623.4,198.4 625.2,198.3 627.0,198.1 628.8,198.0 630.6,197.8 632.4,197.7 634.2,197.5 636.0,197.4 637.8,197.2 639.6,197.1 641.4,197.0 643.2,196.8 645.0,196.7 646.8,196.6 648.6,196.5 650.4,196.3 652.3,196.2 654.1,196.1 655.9,196.0 657.7,195.9 659.5,195.8 661.3,195.6 663.1,195.5 664.9,195.4 666.7,195.3 668.5,195.2 670.3,195.1 672.1,195.0 673.9,194.9 675.7,194.8 677.5,194.7 679.3,194.6 681.1,194.5" stroke="#000000" stroke-width="3.3" stroke-dasharray="6 6.4"/>
<polyline points="412.9,4.5 413.2,6.9 413.6,9.4 413.9,11.7 414.2,14.1 414.6,16.4 414.9,18.7 415.3,21.0 415.6,23.3 415.9,25.5 416.3,27.7 416.6,29.9 416.9,32.1 417.3,34.2 417.6,36.3 418.0,38.4 418.3,40.5 418.6,42.5 419.0,44.5 419.3,46.5 419.6,48.5 420.0,50.4 420.3,52.4 420.7,54.3 421.0,56.1 421.3,58.0 421.7,59.8 422.0,61.7 422.3,63.5 422.7,65.2 423.0,67.0 423.4,68.7 423.7,70.5 424.0,72.2 424.4,73.8 424.7,75.5 425.0,77.2 425.4,78.8 425.7,80.4 426.1,82.0 426.4,83.5 426.7,85.1 427.1,86.6 427.4,88.1 427.7,89.6 428.1,91.1 428.4,92.6 428.8,94.0 429.1,95.4 429.4,96.9 429.8,98.3 430.1,99.6 430.4,101.0 430.8,102.4 431.1,103.7 431.5,105.0 431.8,106.3 432.1,107.6 432.5,108.9 432.8,110.1 433.1,111.4 433.5,112.6 433.8,113.8 434.2,115.0 434.5,116.2 434.8,117.4 435.2,118.5 435.5,119.7 435.8,120.8 436.2,121.9 436.5,123.0 436.9,124.1 437.2,125.2 437.5,126.2 437.9,127.3 438.2,128.3 438.5,129.4 438.9,130.4 439.2,131.4 439.6,132.4 439.9,133.4 440.2,134.3 440.6,135.3 440.9,136.2 441.2,137.2 441.6,138.1 441.9,139.0 442.3,139.9 442.6,140.8 442.9,141.6 443.3,142.5 443.6,143.4 443.9,144.2 444.3,145.1 444.6,145.9 444.9,146.7 445.3,147.5 445.6,148.3 446.0,149.1 446.3,149.9 446.6,150.6 447.0,151.4 447.3,152.1 447.6,152.9 448.0,153.6 448.3,154.3 448.7,155.0 449.0,155.7 449.3,156.4 449.7,157.1 450.0,157.8 450.3,158.5 450.7,159.1 451.0,159.8 451.4,160.4 451.7,161.1 452.0,161.7 452.4,162.3 452.7,162.9 453.0,163.5 453.4,164.1 453.7,164.7 454.1,165.3 454.4,165.9 454.7,166.4 455.1,167.0 455.4,167.5 455.7,168.1 456.1,168.6 456.4,169.2 456.8,169.7 457.1,170.2 457.4,170.7 457.8,171.2 458.1,171.7 458.4,172.2 458.8,172.7 459.1,173.2 459.5,173.6 459.8,174.1 460.1,174.6 460.5,175.0 460.8,175.5 461.1,175.9 461.5,176.4 461.8,176.8 462.2,177.2 462.5,177.6 462.8,178.0 463.2,178.5 463.5,178.9 463.8,179.3 464.2,179.6 464.5,180.0 464.9,180.4 465.2,180.8 465.5,181.2 465.9,181.5 466.2,181.9 466.5,182.2 468.3,184.1 470.1,185.8 471.9,187.3 473.8,188.8 475.6,190.1 477.4,191.4 479.2,192.5 481.0,193.6 482.8,194.5 484.6,195.4 486.4,196.2 488.2,197.0 490.0,197.7 491.8,198.3 493.6,198.8 495.4,199.3 497.2,199.8 499.0,200.2 500.8,200.6 502.6,200.9 504.4,201.2 506.2,201.4 508.0,201.6 509.8,201.8 511.6,202.0 513.4,202.1 515.2,202.2 517.0,202.3 518.8,202.4 520.6,202.4 522.4,202.4 524.2,202.5 526.0,202.4 527.8,202.4 529.6,202.4 531.4,202.3 533.3,202.3 535.1,202.2 536.9,202.1 538.7,202.1 540.5,202.0 542.3,201.9 544.1,201.8 545.9,201.6 547.7,201.5 549.5,201.4 551.3,201.3 553.1,201.2 554.9,201.0 556.7,200.9 558.5,200.8 560.3,200.6 562.1,200.5 563.9,200.3 565.7,200.2 567.5,200.1 569.3,199.9 571.1,199.8 572.9,199.6 574.7,199.5 576.5,199.4 578.3,199.2 580.1,199.1 581.9,198.9 583.7,198.8 585.5,198.7 587.3,198.5 589.1,198.4 590.9,198.3 592.8,198.1 594.6,198.0 596.4,197.9 598.2,197.8 600.0,197.6 601.8,197.5 603.6,197.4 605.4,197.3 607.2,197.2 609.0,197.0 610.8,196.9 612.6,196.8 614.4,196.7 616.2,196.6 618.0,196.5 619.8,196.4 621.6,196.3 623.4,196.2 625.2,196.1 627.0,196.0 628.8,195.9 630.6,195.8 632.4,195.7 634.2,195.6 636.0,195.5 637.8,195.5 639.6,195.4 641.4,195.3 643.2,195.2 645.0,195.1 646.8,195.1 648.6,195.0 650.4,194.9 652.3,194.8 654.1,194.8 655.9,194.7 657.7,194.6 659.5,194.5 661.3,194.5 663.1,194.4 664.9,194.4 666.7,194.3 668.5,194.2 670.3,194.2 672.1,194.1 673.9,194.0 675.7,194.0 677.5,193.9 679.3,193.9 681.1,193.8" stroke="#000000" stroke-width="3.3" stroke-dasharray="6 6.4"/>
<polyline points="412.9,4.5 413.2,6.6 413.6,8.8 413.9,10.9 414.2,13.0 414.6,15.1 414.9,17.1 415.3,19.1 415.6,21.2 415.9,23.2 416.3,25.1 416.6,27.1 416.9,29.0 417.3,31.0 417.6,32.9 418.0,34.7 418.3,36.6 418.6,38.5 419.0,40.3 419.3,42.1 419.6,43.9 420.0,45.7 420.3,47.5 420.7,49.2 421.0,50.9 421.3,52.6 421.7,54.3 422.0,56.0 422.3,57.7 422.7,59.3 423.0,60.9 423.4,62.6 423.7,64.2 424.0,65.7 424.4,67.3 424.7,68.8 425.0,70.4 425.4,71.9 425.7,73.4 426.1,74.9 426.4,76.3 426.7,77.8 427.1,79.2 427.4,80.7 427.7,82.1 428.1,83.5 428.4,84.8 428.8,86.2 429.1,87.6 429.4,88.9 429.8,90.2 430.1,91.5 430.4,92.8 430.8,94.1 431.1,95.4 431.5,96.6 431.8,97.9 432.1,99.1 432.5,100.3 432.8,101.5 433.1,102.7 433.5,103.9 433.8,105.0 434.2,106.2 434.5,107.3 434.8,108.4 435.2,109.5 435.5,110.6 435.8,111.7 436.2,112.8 436.5,113.9 436.9,114.9 437.2,115.9 437.5,117.0 437.9,118.0 438.2,119.0 438.5,120.0 438.9,121.0 439.2,121.9 439.6,122.9 439.9,123.9 440.2,124.8 440.6,125.7 440.9,126.6 441.2,127.5 441.6,128.4 441.9,129.3 442.3,130.2 442.6,131.1 442.9,131.9 443.3,132.8 443.6,133.6 443.9,134.4 444.3,135.3 444.6,136.1 444.9,136.9 445.3,137.7 445.6,138.4 446.0,139.2 446.3,140.0 446.6,140.7 447.0,141.5 447.3,142.2 447.6,142.9 448.0,143.6 448.3,144.4 448.7,145.1 449.0,145.8 449.3,146.4 449.7,147.1 450.0,147.8 450.3,148.4 450.7,149.1 451.0,149.7 451.4,150.4 451.7,151.0 452.0,151.6 452.4,152.3 452.7,152.9 453.0,153.5 453.4,154.1 453.7,154.6 454.1,155.2 454.4,155.8 454.7,156.4 455.1,156.9 455.4,157.5 455.7,158.0 456.1,158.6 456.4,159.1 456.8,159.6 457.1,160.1 457.4,160.6 457.8,161.2 458.1,161.7 458.4,162.1 458.8,162.6 459.1,163.1 459.5,163.6 459.8,164.1 460.1,164.5 460.5,165.0 460.8,165.4 461.1,165.9 461.5,166.3 461.8,166.8 462.2,167.2 462.5,167.6 462.8,168.0 463.2,168.5 463.5,168.9 463.8,169.3 464.2,169.7 464.5,170.1 464.9,170.5 465.2,170.8 465.5,171.2 465.9,171.6 466.2,172.0 466.5,172.3 468.3,174.2 470.1,176.0 471.9,177.6 473.8,179.1 475.6,180.5 477.4,181.9 479.2,183.1 481.0,184.2 482.8,185.3 484.6,186.3 486.4,187.2 488.2,188.1 490.0,188.8 491.8,189.6 493.6,190.3 495.4,190.9 497.2,191.5 499.0,192.0 500.8,192.5 502.6,193.0 504.4,193.4 506.2,193.8 508.0,194.1 509.8,194.4 511.6,194.7 513.4,195.0 515.2,195.3 517.0,195.5 518.8,195.7 520.6,195.9 522.4,196.0 524.2,196.2 526.0,196.3 527.8,196.4 529.6,196.5 531.4,196.6 533.3,196.7 535.1,196.8 536.9,196.8 538.7,196.9 540.5,196.9 542.3,197.0 544.1,197.0 545.9,197.0 547.7,197.0 549.5,197.0 551.3,197.0 553.1,197.0 554.9,197.0 556.7,197.0 558.5,197.0 560.3,197.0 562.1,196.9 563.9,196.9 565.7,196.9 567.5,196.8 569.3,196.8 571.1,196.8 572.9,196.7 574.7,196.7 576.5,196.6 578.3,196.6 580.1,196.5 581.9,196.5 583.7,196.4 585.5,196.4 587.3,196.3 589.1,196.3 590.9,196.2 592.8,196.2 594.6,196.1 596.4,196.1 598.2,196.0 600.0,196.0 601.8,195.9 603.6,195.9 605.4,195.8 607.2,195.7 609.0,195.7 610.8,195.6 612.6,195.6 614.4,195.5 616.2,195.5 618.0,195.4 619.8,195.4 621.6,195.3 623.4,195.3 625.2,195.2 627.0,195.1 628.8,195.1 630.6,195.0 632.4,195.0 634.2,194.9 636.0,194.9 637.8,194.8 639.6,194.8 641.4,194.7 643.2,194.7 645.0,194.6 646.8,194.6 648.6,194.5 650.4,194.5 652.3,194.4 654.1,194.4 655.9,194.3 657.7,194.3 659.5,194.2 661.3,194.2 663.1,194.1 664.9,194.1 666.7,194.0 668.5,194.0 670.3,193.9 672.1,193.9 673.9,193.8 675.7,193.8 677.5,193.8 679.3,193.7 681.1,193.7" stroke="#000000" stroke-width="3.3" stroke-dasharray="6 6.4"/>
<polyline points="412.9,4.5 413.2,7.1 413.6,9.6 413.9,12.1 414.2,14.6 414.6,17.1 414.9,19.5 415.3,21.9 415.6,24.3 415.9,26.6 416.3,28.9 416.6,31.2 416.9,33.5 417.3,35.7 417.6,38.0 418.0,40.2 418.3,42.3 418.6,44.5 419.0,46.6 419.3,48.7 419.6,50.7 420.0,52.8 420.3,54.8 420.7,56.8 421.0,58.8 421.3,60.7 421.7,62.7 422.0,64.6 422.3,66.4 422.7,68.3 423.0,70.1 423.4,72.0 423.7,73.8 424.0,75.5 424.4,77.3 424.7,79.0 425.0,80.7 425.4,82.4 425.7,84.1 426.1,85.8 426.4,87.4 426.7,89.0 427.1,90.6 427.4,92.2 427.7,93.8 428.1,95.3 428.4,96.8 428.8,98.3 429.1,99.8 429.4,101.3 429.8,102.7 430.1,104.2 430.4,105.6 430.8,107.0 431.1,108.4 431.5,109.7 431.8,111.1 432.1,112.4 432.5,113.8 432.8,115.1 433.1,116.3 433.5,117.6 433.8,118.9 434.2,120.1 434.5,121.3 434.8,122.5 435.2,123.7 435.5,124.9 435.8,126.1 436.2,127.2 436.5,128.4 436.9,129.5 437.2,130.6 437.5,131.7 437.9,132.8 438.2,133.9 438.5,134.9 438.9,136.0 439.2,137.0 439.6,138.0 439.9,139.0 440.2,140.0 440.6,141.0 440.9,142.0 441.2,142.9 441.6,143.9 441.9,144.8 442.3,145.7 442.6,146.6 442.9,147.5 443.3,148.4 443.6,149.3 443.9,150.2 444.3,151.0 444.6,151.9 444.9,152.7 445.3,153.5 445.6,154.3 446.0,155.1 446.3,155.9 446.6,156.7 447.0,157.5 447.3,158.2 447.6,159.0 448.0,159.7 448.3,160.4 448.7,161.2 449.0,161.9 449.3,162.6 449.7,163.3 450.0,164.0 450.3,164.6 450.7,165.3 451.0,166.0 451.4,166.6 451.7,167.2 452.0,167.9 452.4,168.5 452.7,169.1 453.0,169.7 453.4,170.3 453.7,170.9 454.1,171.5 454.4,172.1 454.7,172.6 455.1,173.2 455.4,173.7 455.7,174.3 456.1,174.8 456.4,175.4 456.8,175.9 457.1,176.4 457.4,176.9 457.8,177.4 458.1,177.9 458.4,178.4 458.8,178.9 459.1,179.3 459.5,179.8 459.8,180.3 460.1,180.7 460.5,181.2 460.8,181.6 461.1,182.1 461.5,182.5 461.8,182.9 462.2,183.3 462.5,183.7 462.8,184.1 463.2,184.5 463.5,184.9 463.8,185.3 464.2,185.7 464.5,186.1 464.9,186.4 465.2,186.8 465.5,187.2 465.9,187.5 466.2,187.9 466.5,188.2 468.3,190.0 470.1,191.6 471.9,193.1 473.8,194.5 475.6,195.7 477.4,196.9 479.2,197.9 481.0,198.9 482.8,199.7 484.6,200.5 486.4,201.2 488.2,201.9 490.0,202.4 491.8,203.0 493.6,203.4 495.4,203.8 497.2,204.1 499.0,204.4 500.8,204.7 502.6,204.9 504.4,205.1 506.2,205.2 508.0,205.4 509.8,205.4 511.6,205.5 513.4,205.5 515.2,205.5 517.0,205.5 518.8,205.5 520.6,205.4 522.4,205.4 524.2,205.3 526.0,205.2 527.8,205.1 529.6,204.9 531.4,204.8 533.3,204.7 535.1,204.5 536.9,204.4 538.7,204.2 540.5,204.0 542.3,203.8 544.1,203.7 545.9,203.5 547.7,203.3 549.5,203.1 551.3,202.9 553.1,202.7 554.9,202.5 556.7,202.4 558.5,202.2 560.3,202.0 562.1,201.8 563.9,201.6 565.7,201.4 567.5,201.2 569.3,201.0 571.1,200.8 572.9,200.7 574.7,200.5 576.5,200.3 578.3,200.1 580.1,199.9 581.9,199.8 583.7,199.6 585.5,199.4 587.3,199.3 589.1,199.1 590.9,198.9 592.8,198.8 594.6,198.6 596.4,198.5 598.2,198.3 600.0,198.2 601.8,198.1 603.6,197.9 605.4,197.8 607.2,197.6 609.0,197.5 610.8,197.4 612.6,197.3 614.4,197.1 616.2,197.0 618.0,196.9 619.8,196.8 621.6,196.7 623.4,196.6 625.2,196.5 627.0,196.4 628.8,196.3 630.6,196.2 632.4,196.1 634.2,196.0 636.0,195.9 637.8,195.8 639.6,195.7 641.4,195.6 643.2,195.5 645.0,195.5 646.8,195.4 648.6,195.3 650.4,195.2 652.3,195.2 654.1,195.1 655.9,195.0 657.7,194.9 659.5,194.9 661.3,194.8 663.1,194.8 664.9,194.7 666.7,194.6 668.5,194.6 670.3,194.5 672.1,194.5 673.9,194.4 675.7,194.4 677.5,194.3 679.3,194.3 681.1,194.2" stroke="#ff0000" stroke-width="3.3" stroke-dasharray="6.8 3.4 1.3 3.5"/>
<polyline points="412.9,4.5 413.2,6.7 413.6,8.8 413.9,10.9 414.2,13.0 414.6,15.1 414.9,17.2 415.3,19.3 415.6,21.3 415.9,23.3 416.3,25.4 416.6,27.3 416.9,29.3 417.3,31.3 417.6,33.2 418.0,35.1 418.3,37.1 418.6,38.9 419.0,40.8 419.3,42.7 419.6,44.5 420.0,46.3 420.3,48.2 420.7,49.9 421.0,51.7 421.3,53.5 421.7,55.2 422.0,56.9 422.3,58.6 422.7,60.3 423.0,62.0 423.4,63.7 423.7,65.3 424.0,66.9 424.4,68.5 424.7,70.1 425.0,71.7 425.4,73.3 425.7,74.8 426.1,76.4 426.4,77.9 426.7,79.4 427.1,80.9 427.4,82.3 427.7,83.8 428.1,85.2 428.4,86.7 428.8,88.1 429.1,89.5 429.4,90.9 429.8,92.2 430.1,93.6 430.4,94.9 430.8,96.2 431.1,97.5 431.5,98.8 431.8,100.1 432.1,101.4 432.5,102.6 432.8,103.9 433.1,105.1 433.5,106.3 433.8,107.5 434.2,108.7 434.5,109.9 434.8,111.0 435.2,112.2 435.5,113.3 435.8,114.4 436.2,115.6 436.5,116.7 436.9,117.7 437.2,118.8 437.5,119.9 437.9,120.9 438.2,122.0 438.5,123.0 438.9,124.0 439.2,125.0 439.6,126.0 439.9,127.0 440.2,127.9 440.6,128.9 440.9,129.8 441.2,130.8 441.6,131.7 441.9,132.6 442.3,133.5 442.6,134.4 442.9,135.3 443.3,136.1 443.6,137.0 443.9,137.8 444.3,138.7 444.6,139.5 444.9,140.3 445.3,141.1 445.6,141.9 446.0,142.7 446.3,143.5 446.6,144.3 447.0,145.0 447.3,145.8 447.6,146.5 448.0,147.2 448.3,148.0 448.7,148.7 449.0,149.4 449.3,150.1 449.7,150.8 450.0,151.5 450.3,152.1 450.7,152.8 451.0,153.4 451.4,154.1 451.7,154.7 452.0,155.4 452.4,156.0 452.7,156.6 453.0,157.2 453.4,157.8 453.7,158.4 454.1,159.0 454.4,159.6 454.7,160.1 455.1,160.7 455.4,161.3 455.7,161.8 456.1,162.3 456.4,162.9 456.8,163.4 457.1,163.9 457.4,164.4 457.8,164.9 458.1,165.4 458.4,165.9 458.8,166.4 459.1,166.9 459.5,167.4 459.8,167.9 460.1,168.3 460.5,168.8 460.8,169.2 461.1,169.7 461.5,170.1 461.8,170.5 462.2,171.0 462.5,171.4 462.8,171.8 463.2,172.2 463.5,172.6 463.8,173.0 464.2,173.4 464.5,173.8 464.9,174.2 465.2,174.6 465.5,174.9 465.9,175.3 466.2,175.7 466.5,176.0 468.3,177.9 470.1,179.6 471.9,181.2 473.8,182.6 475.6,184.0 477.4,185.2 479.2,186.4 481.0,187.5 482.8,188.5 484.6,189.4 486.4,190.3 488.2,191.0 490.0,191.8 491.8,192.4 493.6,193.0 495.4,193.6 497.2,194.1 499.0,194.6 500.8,195.0 502.6,195.4 504.4,195.7 506.2,196.0 508.0,196.3 509.8,196.6 511.6,196.8 513.4,197.0 515.2,197.2 517.0,197.4 518.8,197.5 520.6,197.7 522.4,197.8 524.2,197.9 526.0,197.9 527.8,198.0 529.6,198.1 531.4,198.1 533.3,198.2 535.1,198.2 536.9,198.2 538.7,198.2 540.5,198.2 542.3,198.2 544.1,198.2 545.9,198.2 547.7,198.1 549.5,198.1 551.3,198.1 553.1,198.0 554.9,198.0 556.7,198.0 558.5,197.9 560.3,197.9 562.1,197.8 563.9,197.7 565.7,197.7 567.5,197.6 569.3,197.6 571.1,197.5 572.9,197.4 574.7,197.4 576.5,197.3 578.3,197.2 580.1,197.2 581.9,197.1 583.7,197.0 585.5,197.0 587.3,196.9 589.1,196.8 590.9,196.8 592.8,196.7 594.6,196.6 596.4,196.6 598.2,196.5 600.0,196.4 601.8,196.3 603.6,196.3 605.4,196.2 607.2,196.1 609.0,196.1 610.8,196.0 612.6,195.9 614.4,195.9 616.2,195.8 618.0,195.7 619.8,195.7 621.6,195.6 623.4,195.5 625.2,195.5 627.0,195.4 628.8,195.3 630.6,195.3 632.4,195.2 634.2,195.1 636.0,195.1 637.8,195.0 639.6,195.0 641.4,194.9 643.2,194.8 645.0,194.8 646.8,194.7 648.6,194.7 650.4,194.6 652.3,194.5 654.1,194.5 655.9,194.4 657.7,194.4 659.5,194.3 661.3,194.3 663.1,194.2 664.9,194.2 666.7,194.1 668.5,194.0 670.3,194.0 672.1,193.9 673.9,193.9 675.7,193.8 677.5,193.8 679.3,193.7 681.1,193.7" stroke="#ff0000" stroke-width="3.3" stroke-dasharray="6.8 3.4 1.3 3.5"/>
<polyline points="412.9,4.5 413.2,6.5 413.6,8.4 413.9,10.4 414.2,12.3 414.6,14.2 414.9,16.1 415.3,18.0 415.6,19.9 415.9,21.8 416.3,23.6 416.6,25.4 416.9,27.2 417.3,29.0 417.6,30.8 418.0,32.6 418.3,34.3 418.6,36.0 419.0,37.8 419.3,39.5 419.6,41.1 420.0,42.8 420.3,44.5 420.7,46.1 421.0,47.8 421.3,49.4 421.7,51.0 422.0,52.5 422.3,54.1 422.7,55.7 423.0,57.2 423.4,58.7 423.7,60.3 424.0,61.8 424.4,63.2 424.7,64.7 425.0,66.2 425.4,67.6 425.7,69.0 426.1,70.5 426.4,71.9 426.7,73.2 427.1,74.6 427.4,76.0 427.7,77.3 428.1,78.7 428.4,80.0 428.8,81.3 429.1,82.6 429.4,83.9 429.8,85.2 430.1,86.4 430.4,87.7 430.8,88.9 431.1,90.1 431.5,91.3 431.8,92.5 432.1,93.7 432.5,94.9 432.8,96.0 433.1,97.2 433.5,98.3 433.8,99.4 434.2,100.5 434.5,101.6 434.8,102.7 435.2,103.8 435.5,104.9 435.8,105.9 436.2,107.0 436.5,108.0 436.9,109.0 437.2,110.1 437.5,111.1 437.9,112.0 438.2,113.0 438.5,114.0 438.9,115.0 439.2,115.9 439.6,116.8 439.9,117.8 440.2,118.7 440.6,119.6 440.9,120.5 441.2,121.4 441.6,122.3 441.9,123.1 442.3,124.0 442.6,124.9 442.9,125.7 443.3,126.5 443.6,127.4 443.9,128.2 444.3,129.0 444.6,129.8 444.9,130.6 445.3,131.3 445.6,132.1 446.0,132.9 446.3,133.6 446.6,134.4 447.0,135.1 447.3,135.8 447.6,136.6 448.0,137.3 448.3,138.0 448.7,138.7 449.0,139.4 449.3,140.0 449.7,140.7 450.0,141.4 450.3,142.0 450.7,142.7 451.0,143.3 451.4,144.0 451.7,144.6 452.0,145.2 452.4,145.8 452.7,146.4 453.0,147.0 453.4,147.6 453.7,148.2 454.1,148.8 454.4,149.4 454.7,149.9 455.1,150.5 455.4,151.0 455.7,151.6 456.1,152.1 456.4,152.7 456.8,153.2 457.1,153.7 457.4,154.2 457.8,154.7 458.1,155.2 458.4,155.7 458.8,156.2 459.1,156.7 459.5,157.2 459.8,157.7 460.1,158.1 460.5,158.6 460.8,159.1 461.1,159.5 461.5,160.0 461.8,160.4 462.2,160.8 462.5,161.3 462.8,161.7 463.2,162.1 463.5,162.5 463.8,162.9 464.2,163.3 464.5,163.7 464.9,164.1 465.2,164.5 465.5,164.9 465.9,165.3 466.2,165.7 466.5,166.0 468.3,168.0 470.1,169.8 471.9,171.4 473.8,173.0 475.6,174.5 477.4,175.9 479.2,177.1 481.0,178.3 482.8,179.5 484.6,180.5 486.4,181.5 488.2,182.4 490.0,183.3 491.8,184.1 493.6,184.8 495.4,185.5 497.2,186.1 499.0,186.7 500.8,187.3 502.6,187.8 504.4,188.3 506.2,188.7 508.0,189.2 509.8,189.5 511.6,189.9 513.4,190.2 515.2,190.5 517.0,190.8 518.8,191.1 520.6,191.3 522.4,191.6 524.2,191.8 526.0,192.0 527.8,192.1 529.6,192.3 531.4,192.5 533.3,192.6 535.1,192.7 536.9,192.8 538.7,192.9 540.5,193.0 542.3,193.1 544.1,193.2 545.9,193.3 547.7,193.4 549.5,193.4 551.3,193.5 553.1,193.5 554.9,193.6 556.7,193.6 558.5,193.6 560.3,193.7 562.1,193.7 563.9,193.7 565.7,193.7 567.5,193.8 569.3,193.8 571.1,193.8 572.9,193.8 574.7,193.8 576.5,193.8 578.3,193.8 580.1,193.8 581.9,193.8 583.7,193.8 585.5,193.8 587.3,193.8 589.1,193.8 590.9,193.8 592.8,193.8 594.6,193.7 596.4,193.7 598.2,193.7 600.0,193.7 601.8,193.7 603.6,193.7 605.4,193.7 607.2,193.6 609.0,193.6 610.8,193.6 612.6,193.6 614.4,193.6 616.2,193.6 618.0,193.5 619.8,193.5 621.6,193.5 623.4,193.5 625.2,193.5 627.0,193.4 628.8,193.4 630.6,193.4 632.4,193.4 634.2,193.4 636.0,193.3 637.8,193.3 639.6,193.3 641.4,193.3 643.2,193.3 645.0,193.2 646.8,193.2 648.6,193.2 650.4,193.2 652.3,193.2 654.1,193.1 655.9,193.1 657.7,193.1 659.5,193.1 661.3,193.1 663.1,193.0 664.9,193.0 666.7,193.0 668.5,193.0 670.3,193.0 672.1,192.9 673.9,192.9 675.7,192.9 677.5,192.9 679.3,192.9 681.1,192.8" stroke="#ff0000" stroke-width="3.3" stroke-dasharray="6.8 3.4 1.3 3.5"/>
</g>
<g stroke="#555" stroke-width="0.9" fill="none">
<line x1="412.90" y1="226.00" x2="412.90" y2="223.20"/>
<line x1="412.90" y1="4.50" x2="412.90" y2="7.30"/>
<line x1="547.00" y1="226.00" x2="547.00" y2="223.20"/>
<line x1="547.00" y1="4.50" x2="547.00" y2="7.30"/>
<line x1="681.10" y1="226.00" x2="681.10" y2="223.20"/>
<line x1="681.10" y1="4.50" x2="681.10" y2="7.30"/>
<line x1="412.90" y1="4.50" x2="415.70" y2="4.50"/>
<line x1="681.10" y1="4.50" x2="678.30" y2="4.50"/>
<line x1="412.90" y1="78.33" x2="415.70" y2="78.33"/>
<line x1="681.10" y1="78.33" x2="678.30" y2="78.33"/>
<line x1="412.90" y1="152.17" x2="415.70" y2="152.17"/>
<line x1="681.10" y1="152.17" x2="678.30" y2="152.17"/>
<line x1="412.90" y1="226.00" x2="415.70" y2="226.00"/>
<line x1="681.10" y1="226.00" x2="678.30" y2="226.00"/>
</g>
<rect x="412.90" y="4.50" width="268.20" height="221.50" fill="none" stroke="#262626" stroke-width="1.25"/>
<text x="409.80" y="9.80" font-size="14.0" text-anchor="end" font-weight="bold" font-style="normal" fill="#000" >1</text>
<text x="409.80" y="83.63" font-size="14.0" text-anchor="end" font-weight="bold" font-style="normal" fill="#000" >0.6</text>
<text x="409.80" y="157.47" font-size="14.0" text-anchor="end" font-weight="bold" font-style="normal" fill="#000" >0.2</text>
<text x="409.80" y="231.30" font-size="14.0" text-anchor="end" font-weight="bold" font-style="normal" fill="#000" >&#8722;0.2</text>
<text x="412.90" y="241.50" font-size="14.0" text-anchor="middle" font-weight="bold" font-style="normal" fill="#000" >0</text>
<text x="547.00" y="241.50" font-size="14.0" text-anchor="middle" font-weight="bold" font-style="normal" fill="#000" >1</text>
<text x="681.10" y="241.50" font-size="14.0" text-anchor="middle" font-weight="bold" font-style="normal" fill="#000" >2</text>
<g transform="translate(538.40,240.50) scale(0.88)" fill="none" stroke="#000" stroke-linecap="round"><path d="M11.6 5.5 C9.6 5.9 7.9 6.5 7.5 7.7 L7.4 11.2 M7.4 11.2 L12.6 11.0" stroke-width="1.35"/><path d="M8.6 11.6 C5.6 12.6 4.6 15 5.3 17.3 C6.3 19.6 10 19.1 12.4 20.0 C14.2 20.9 13.8 23 10.6 24.6" stroke-width="1.75"/><circle cx="6.6" cy="5.8" r="1.15" fill="#000" stroke="none"/></g>
<g transform="translate(373.90,131.60) rotate(-90) scale(0.950,0.900)"><text x="0" y="0" font-size="21" font-weight="normal" fill="#000">&#952;(</text><g transform="translate(12.60,-20.80) scale(1.0)" fill="none" stroke="#000" stroke-linecap="round"><path d="M11.6 5.5 C9.6 5.9 7.9 6.5 7.5 7.7 L7.4 11.2 M7.4 11.2 L12.6 11.0" stroke-width="1.35"/><path d="M8.6 11.6 C5.6 12.6 4.6 15 5.3 17.3 C6.3 19.6 10 19.1 12.4 20.0 C14.2 20.9 13.8 23 10.6 24.6" stroke-width="1.75"/><circle cx="6.6" cy="5.8" r="1.15" fill="#000" stroke="none"/></g><text x="26.6" y="0" font-size="21" font-weight="normal" fill="#000">)</text></g>
<rect x="547.5" y="9.5" width="129.3" height="50.3" fill="#fff" stroke="#2a2a2a" stroke-width="1.2"/>
<line x1="554.2" y1="18.9" x2="584.9" y2="18.9" fill="none" stroke="#1e3cff" stroke-width="3.3" stroke-dashoffset="0"/>
<text x="588.00" y="23.90" font-size="14.0" text-anchor="start" font-weight="bold" font-style="normal" fill="#000" textLength="59.4" lengthAdjust="spacingAndGlyphs" >momo NF</text>
<line x1="554.2" y1="34.2" x2="584.9" y2="34.2" fill="none" stroke="#000000" stroke-width="3.3" stroke-dasharray="6 6.4" stroke-dashoffset="0"/>
<text x="588.00" y="38.40" font-size="14.0" text-anchor="start" font-weight="bold" font-style="normal" fill="#000" textLength="62.2" lengthAdjust="spacingAndGlyphs" >hybrid NF</text>
<line x1="554.2" y1="49.3" x2="584.9" y2="49.3" fill="none" stroke="#ff0000" stroke-width="3.3" stroke-dasharray="1.5 3.5 7.5 3"/>
<text x="588.00" y="53.70" font-size="14.0" text-anchor="start" font-weight="bold" font-style="normal" fill="#000" textLength="85.8" lengthAdjust="spacingAndGlyphs" >tri&#8722;hybrid NF</text>
<text x="506.20" y="164.50" font-size="20" text-anchor="start" font-weight="bold" font-style="italic" fill="#000" textLength="118.6" lengthAdjust="spacingAndGlyphs" >Rd=0.4,0.8,1.2</text>
<line x1="432.2" y1="202.4" x2="481.2" y2="163.4" stroke="#1e3cff" stroke-width="2.4"/><polygon points="488.0,158.0 482.5,168.4 476.6,161.0" fill="#1e3cff" stroke="#1e3cff" stroke-width="1" stroke-linejoin="round"/>
<text x="535.70" y="312.30" font-size="18.5" text-anchor="middle" font-weight="bold" font-style="normal" fill="#ff0000" >(b)</text>
<g clip-path="url(#cc)" fill="none">
<polyline points="241.9,323.4 242.3,325.7 242.6,328.0 243.0,330.2 243.3,332.4 243.7,334.6 244.0,336.8 244.4,339.0 244.7,341.1 245.1,343.2 245.5,345.3 245.8,347.3 246.2,349.4 246.5,351.4 246.9,353.4 247.2,355.3 247.6,357.3 247.9,359.2 248.3,361.1 248.7,363.0 249.0,364.9 249.4,366.7 249.7,368.5 250.1,370.4 250.4,372.1 250.8,373.9 251.1,375.7 251.5,377.4 251.8,379.1 252.2,380.8 252.6,382.5 252.9,384.1 253.3,385.8 253.6,387.4 254.0,389.0 254.3,390.6 254.7,392.1 255.0,393.7 255.4,395.2 255.8,396.7 256.1,398.2 256.5,399.7 256.8,401.2 257.2,402.7 257.5,404.1 257.9,405.5 258.2,406.9 258.6,408.3 259.0,409.7 259.3,411.1 259.7,412.4 260.0,413.7 260.4,415.0 260.7,416.3 261.1,417.6 261.4,418.9 261.8,420.2 262.2,421.4 262.5,422.7 262.9,423.9 263.2,425.1 263.6,426.3 263.9,427.5 264.3,428.6 264.6,429.8 265.0,430.9 265.4,432.1 265.7,433.2 266.1,434.3 266.4,435.4 266.8,436.5 267.1,437.5 267.5,438.6 267.8,439.6 268.2,440.7 268.6,441.7 268.9,442.7 269.3,443.7 269.6,444.7 270.0,445.7 270.3,446.7 270.7,447.6 271.0,448.6 271.4,449.5 271.7,450.4 272.1,451.3 272.5,452.3 272.8,453.2 273.2,454.0 273.5,454.9 273.9,455.8 274.2,456.7 274.6,457.5 274.9,458.3 275.3,459.2 275.7,460.0 276.0,460.8 276.4,461.6 276.7,462.4 277.1,463.2 277.4,464.0 277.8,464.8 278.1,465.5 278.5,466.3 278.9,467.0 279.2,467.7 279.6,468.5 279.9,469.2 280.3,469.9 280.6,470.6 281.0,471.3 281.3,472.0 281.7,472.7 282.1,473.4 282.4,474.0 282.8,474.7 283.1,475.3 283.5,476.0 283.8,476.6 284.2,477.3 284.5,477.9 284.9,478.5 285.3,479.1 285.6,479.7 286.0,480.3 286.3,480.9 286.7,481.5 287.0,482.1 287.4,482.7 287.7,483.2 288.1,483.8 288.5,484.3 288.8,484.9 289.2,485.4 289.5,486.0 289.9,486.5 290.2,487.0 290.6,487.5 290.9,488.0 291.3,488.5 291.6,489.0 292.0,489.5 292.4,490.0 292.7,490.5 293.1,491.0 293.4,491.5 293.8,491.9 294.1,492.4 294.5,492.9 294.8,493.3 295.2,493.8 295.6,494.2 295.9,494.7 296.3,495.1 296.6,495.5 297.0,495.9 297.3,496.4 297.7,496.8 298.0,497.2 298.4,497.6 300.3,499.7 302.2,501.7 304.1,503.5 306.0,505.3 307.9,506.9 309.8,508.5 311.7,510.0 313.6,511.3 315.5,512.6 317.4,513.9 319.3,515.0 321.2,516.1 323.1,517.1 325.0,518.1 326.9,519.0 328.8,519.9 330.7,520.7 332.6,521.4 334.5,522.2 336.4,522.8 338.3,523.5 340.2,524.1 342.1,524.6 344.0,525.1 345.9,525.6 347.8,526.1 349.7,526.6 351.6,527.0 353.5,527.4 355.4,527.7 357.3,528.1 359.2,528.4 361.1,528.7 363.0,529.0 364.9,529.3 366.8,529.5 368.7,529.7 370.6,530.0 372.5,530.2 374.4,530.4 376.3,530.6 378.2,530.7 380.1,530.9 382.0,531.1 383.9,531.2 385.8,531.3 387.7,531.5 389.6,531.6 391.5,531.7 393.4,531.8 395.3,531.9 397.2,532.0 399.1,532.1 401.0,532.2 402.9,532.3 404.8,532.3 406.7,532.4 408.6,532.5 410.5,532.5 412.3,532.6 414.2,532.6 416.1,532.7 418.0,532.7 419.9,532.8 421.8,532.8 423.7,532.9 425.6,532.9 427.5,532.9 429.4,533.0 431.3,533.0 433.2,533.0 435.1,533.1 437.0,533.1 438.9,533.1 440.8,533.1 442.7,533.2 444.6,533.2 446.5,533.2 448.4,533.2 450.3,533.2 452.2,533.3 454.1,533.3 456.0,533.3 457.9,533.3 459.8,533.3 461.7,533.3 463.6,533.3 465.5,533.4 467.4,533.4 469.3,533.4 471.2,533.4 473.1,533.4 475.0,533.4 476.9,533.4 478.8,533.4 480.7,533.4 482.6,533.4 484.5,533.5 486.4,533.5 488.3,533.5 490.2,533.5 492.1,533.5 494.0,533.5 495.9,533.5 497.8,533.5 499.7,533.5 501.6,533.5 503.5,533.5 505.4,533.5 507.3,533.5 509.2,533.5 511.1,533.5 513.0,533.5 514.9,533.6 516.8,533.6 518.7,533.6 520.6,533.6 522.5,533.6 524.4,533.6" stroke="#1e3cff" stroke-width="3.3"/>
<polyline points="241.9,323.4 242.3,326.0 242.6,328.5 243.0,331.0 243.3,333.5 243.7,336.0 244.0,338.4 244.4,340.8 244.7,343.2 245.1,345.5 245.5,347.8 245.8,350.1 246.2,352.4 246.5,354.6 246.9,356.8 247.2,359.0 247.6,361.2 247.9,363.3 248.3,365.4 248.7,367.5 249.0,369.6 249.4,371.7 249.7,373.7 250.1,375.7 250.4,377.6 250.8,379.6 251.1,381.5 251.5,383.4 251.8,385.3 252.2,387.2 252.6,389.0 252.9,390.9 253.3,392.7 253.6,394.4 254.0,396.2 254.3,397.9 254.7,399.7 255.0,401.4 255.4,403.0 255.8,404.7 256.1,406.4 256.5,408.0 256.8,409.6 257.2,411.2 257.5,412.7 257.9,414.3 258.2,415.8 258.6,417.3 259.0,418.8 259.3,420.3 259.7,421.8 260.0,423.2 260.4,424.6 260.7,426.1 261.1,427.5 261.4,428.8 261.8,430.2 262.2,431.6 262.5,432.9 262.9,434.2 263.2,435.5 263.6,436.8 263.9,438.1 264.3,439.3 264.6,440.6 265.0,441.8 265.4,443.0 265.7,444.2 266.1,445.4 266.4,446.6 266.8,447.7 267.1,448.9 267.5,450.0 267.8,451.1 268.2,452.2 268.6,453.3 268.9,454.4 269.3,455.4 269.6,456.5 270.0,457.5 270.3,458.6 270.7,459.6 271.0,460.6 271.4,461.6 271.7,462.6 272.1,463.5 272.5,464.5 272.8,465.4 273.2,466.4 273.5,467.3 273.9,468.2 274.2,469.1 274.6,470.0 274.9,470.9 275.3,471.7 275.7,472.6 276.0,473.5 276.4,474.3 276.7,475.1 277.1,475.9 277.4,476.8 277.8,477.6 278.1,478.3 278.5,479.1 278.9,479.9 279.2,480.7 279.6,481.4 279.9,482.2 280.3,482.9 280.6,483.6 281.0,484.3 281.3,485.0 281.7,485.7 282.1,486.4 282.4,487.1 282.8,487.8 283.1,488.5 283.5,489.1 283.8,489.8 284.2,490.4 284.5,491.1 284.9,491.7 285.3,492.3 285.6,492.9 286.0,493.5 286.3,494.1 286.7,494.7 287.0,495.3 287.4,495.9 287.7,496.4 288.1,497.0 288.5,497.6 288.8,498.1 289.2,498.6 289.5,499.2 289.9,499.7 290.2,500.2 290.6,500.7 290.9,501.2 291.3,501.8 291.6,502.2 292.0,502.7 292.4,503.2 292.7,503.7 293.1,504.2 293.4,504.6 293.8,505.1 294.1,505.6 294.5,506.0 294.8,506.4 295.2,506.9 295.6,507.3 295.9,507.7 296.3,508.2 296.6,508.6 297.0,509.0 297.3,509.4 297.7,509.8 298.0,510.2 298.4,510.6 300.3,512.6 302.2,514.5 304.1,516.2 306.0,517.8 307.9,519.3 309.8,520.8 311.7,522.1 313.6,523.3 315.5,524.4 317.4,525.5 319.3,526.5 321.2,527.4 323.1,528.2 325.0,529.0 326.9,529.8 328.8,530.4 330.7,531.0 332.6,531.6 334.5,532.1 336.4,532.6 338.3,533.1 340.2,533.5 342.1,533.9 344.0,534.2 345.9,534.5 347.8,534.8 349.7,535.1 351.6,535.3 353.5,535.5 355.4,535.7 357.3,535.9 359.2,536.0 361.1,536.2 363.0,536.3 364.9,536.4 366.8,536.5 368.7,536.6 370.6,536.6 372.5,536.7 374.4,536.7 376.3,536.8 378.2,536.8 380.1,536.8 382.0,536.9 383.9,536.9 385.8,536.9 387.7,536.9 389.6,536.9 391.5,536.8 393.4,536.8 395.3,536.8 397.2,536.8 399.1,536.8 401.0,536.7 402.9,536.7 404.8,536.7 406.7,536.6 408.6,536.6 410.5,536.5 412.3,536.5 414.2,536.5 416.1,536.4 418.0,536.4 419.9,536.3 421.8,536.3 423.7,536.2 425.6,536.2 427.5,536.1 429.4,536.1 431.3,536.1 433.2,536.0 435.1,536.0 437.0,535.9 438.9,535.9 440.8,535.8 442.7,535.8 444.6,535.7 446.5,535.7 448.4,535.7 450.3,535.6 452.2,535.6 454.1,535.5 456.0,535.5 457.9,535.5 459.8,535.4 461.7,535.4 463.6,535.3 465.5,535.3 467.4,535.3 469.3,535.2 471.2,535.2 473.1,535.2 475.0,535.1 476.9,535.1 478.8,535.1 480.7,535.0 482.6,535.0 484.5,535.0 486.4,534.9 488.3,534.9 490.2,534.9 492.1,534.9 494.0,534.8 495.9,534.8 497.8,534.8 499.7,534.8 501.6,534.7 503.5,534.7 505.4,534.7 507.3,534.7 509.2,534.7 511.1,534.6 513.0,534.6 514.9,534.6 516.8,534.6 518.7,534.6 520.6,534.5 522.5,534.5 524.4,534.5" stroke="#1e3cff" stroke-width="3.3"/>
<polyline points="241.9,323.4 242.3,326.4 242.6,329.3 243.0,332.2 243.3,335.1 243.7,338.0 244.0,340.8 244.4,343.5 244.7,346.3 245.1,349.0 245.5,351.6 245.8,354.3 246.2,356.9 246.5,359.4 246.9,362.0 247.2,364.5 247.6,366.9 247.9,369.4 248.3,371.8 248.7,374.2 249.0,376.5 249.4,378.8 249.7,381.1 250.1,383.4 250.4,385.6 250.8,387.8 251.1,390.0 251.5,392.1 251.8,394.2 252.2,396.3 252.6,398.4 252.9,400.4 253.3,402.5 253.6,404.4 254.0,406.4 254.3,408.3 254.7,410.2 255.0,412.1 255.4,414.0 255.8,415.8 256.1,417.7 256.5,419.4 256.8,421.2 257.2,423.0 257.5,424.7 257.9,426.4 258.2,428.1 258.6,429.7 259.0,431.4 259.3,433.0 259.7,434.6 260.0,436.1 260.4,437.7 260.7,439.2 261.1,440.8 261.4,442.2 261.8,443.7 262.2,445.2 262.5,446.6 262.9,448.0 263.2,449.4 263.6,450.8 263.9,452.2 264.3,453.5 264.6,454.8 265.0,456.2 265.4,457.5 265.7,458.7 266.1,460.0 266.4,461.2 266.8,462.5 267.1,463.7 267.5,464.9 267.8,466.0 268.2,467.2 268.6,468.4 268.9,469.5 269.3,470.6 269.6,471.7 270.0,472.8 270.3,473.9 270.7,474.9 271.0,476.0 271.4,477.0 271.7,478.0 272.1,479.0 272.5,480.0 272.8,481.0 273.2,482.0 273.5,482.9 273.9,483.9 274.2,484.8 274.6,485.7 274.9,486.6 275.3,487.5 275.7,488.4 276.0,489.2 276.4,490.1 276.7,490.9 277.1,491.8 277.4,492.6 277.8,493.4 278.1,494.2 278.5,495.0 278.9,495.8 279.2,496.5 279.6,497.3 279.9,498.0 280.3,498.8 280.6,499.5 281.0,500.2 281.3,500.9 281.7,501.6 282.1,502.3 282.4,503.0 282.8,503.6 283.1,504.3 283.5,504.9 283.8,505.6 284.2,506.2 284.5,506.8 284.9,507.5 285.3,508.1 285.6,508.7 286.0,509.2 286.3,509.8 286.7,510.4 287.0,511.0 287.4,511.5 287.7,512.1 288.1,512.6 288.5,513.1 288.8,513.7 289.2,514.2 289.5,514.7 289.9,515.2 290.2,515.7 290.6,516.2 290.9,516.7 291.3,517.1 291.6,517.6 292.0,518.1 292.4,518.5 292.7,519.0 293.1,519.4 293.4,519.8 293.8,520.3 294.1,520.7 294.5,521.1 294.8,521.5 295.2,521.9 295.6,522.3 295.9,522.7 296.3,523.1 296.6,523.5 297.0,523.9 297.3,524.2 297.7,524.6 298.0,525.0 298.4,525.3 300.3,527.1 302.2,528.8 304.1,530.3 306.0,531.7 307.9,533.0 309.8,534.2 311.7,535.3 313.6,536.3 315.5,537.2 317.4,538.0 319.3,538.7 321.2,539.4 323.1,540.0 325.0,540.6 326.9,541.1 328.8,541.5 330.7,541.9 332.6,542.2 334.5,542.5 336.4,542.8 338.3,543.0 340.2,543.2 342.1,543.4 344.0,543.5 345.9,543.6 347.8,543.7 349.7,543.8 351.6,543.8 353.5,543.9 355.4,543.9 357.3,543.8 359.2,543.8 361.1,543.8 363.0,543.7 364.9,543.7 366.8,543.6 368.7,543.5 370.6,543.4 372.5,543.3 374.4,543.2 376.3,543.1 378.2,543.0 380.1,542.8 382.0,542.7 383.9,542.6 385.8,542.4 387.7,542.3 389.6,542.2 391.5,542.0 393.4,541.9 395.3,541.7 397.2,541.6 399.1,541.4 401.0,541.3 402.9,541.1 404.8,541.0 406.7,540.8 408.6,540.7 410.5,540.5 412.3,540.4 414.2,540.2 416.1,540.1 418.0,540.0 419.9,539.8 421.8,539.7 423.7,539.5 425.6,539.4 427.5,539.3 429.4,539.1 431.3,539.0 433.2,538.9 435.1,538.7 437.0,538.6 438.9,538.5 440.8,538.4 442.7,538.2 444.6,538.1 446.5,538.0 448.4,537.9 450.3,537.8 452.2,537.6 454.1,537.5 456.0,537.4 457.9,537.3 459.8,537.2 461.7,537.1 463.6,537.0 465.5,536.9 467.4,536.8 469.3,536.7 471.2,536.6 473.1,536.5 475.0,536.4 476.9,536.4 478.8,536.3 480.7,536.2 482.6,536.1 484.5,536.0 486.4,535.9 488.3,535.9 490.2,535.8 492.1,535.7 494.0,535.6 495.9,535.6 497.8,535.5 499.7,535.4 501.6,535.4 503.5,535.3 505.4,535.2 507.3,535.2 509.2,535.1 511.1,535.1 513.0,535.0 514.9,534.9 516.8,534.9 518.7,534.8 520.6,534.8 522.5,534.7 524.4,534.7" stroke="#1e3cff" stroke-width="3.3"/>
<polyline points="241.9,323.4 242.3,325.8 242.6,328.1 243.0,330.4 243.3,332.7 243.7,334.9 244.0,337.2 244.4,339.4 244.7,341.5 245.1,343.7 245.5,345.8 245.8,347.9 246.2,350.0 246.5,352.1 246.9,354.1 247.2,356.1 247.6,358.1 247.9,360.1 248.3,362.0 248.7,363.9 249.0,365.8 249.4,367.7 249.7,369.6 250.1,371.4 250.4,373.2 250.8,375.0 251.1,376.8 251.5,378.5 251.8,380.3 252.2,382.0 252.6,383.7 252.9,385.4 253.3,387.0 253.6,388.7 254.0,390.3 254.3,391.9 254.7,393.5 255.0,395.0 255.4,396.6 255.8,398.1 256.1,399.6 256.5,401.1 256.8,402.6 257.2,404.1 257.5,405.5 257.9,407.0 258.2,408.4 258.6,409.8 259.0,411.2 259.3,412.6 259.7,413.9 260.0,415.2 260.4,416.6 260.7,417.9 261.1,419.2 261.4,420.5 261.8,421.7 262.2,423.0 262.5,424.2 262.9,425.4 263.2,426.6 263.6,427.8 263.9,429.0 264.3,430.2 264.6,431.4 265.0,432.5 265.4,433.6 265.7,434.8 266.1,435.9 266.4,437.0 266.8,438.0 267.1,439.1 267.5,440.2 267.8,441.2 268.2,442.2 268.6,443.3 268.9,444.3 269.3,445.3 269.6,446.3 270.0,447.2 270.3,448.2 270.7,449.2 271.0,450.1 271.4,451.1 271.7,452.0 272.1,452.9 272.5,453.8 272.8,454.7 273.2,455.6 273.5,456.4 273.9,457.3 274.2,458.2 274.6,459.0 274.9,459.9 275.3,460.7 275.7,461.5 276.0,462.3 276.4,463.1 276.7,463.9 277.1,464.7 277.4,465.5 277.8,466.2 278.1,467.0 278.5,467.7 278.9,468.5 279.2,469.2 279.6,469.9 279.9,470.6 280.3,471.3 280.6,472.0 281.0,472.7 281.3,473.4 281.7,474.1 282.1,474.8 282.4,475.4 282.8,476.1 283.1,476.7 283.5,477.4 283.8,478.0 284.2,478.6 284.5,479.2 284.9,479.9 285.3,480.5 285.6,481.1 286.0,481.6 286.3,482.2 286.7,482.8 287.0,483.4 287.4,483.9 287.7,484.5 288.1,485.1 288.5,485.6 288.8,486.2 289.2,486.7 289.5,487.2 289.9,487.7 290.2,488.3 290.6,488.8 290.9,489.3 291.3,489.8 291.6,490.3 292.0,490.8 292.4,491.2 292.7,491.7 293.1,492.2 293.4,492.7 293.8,493.1 294.1,493.6 294.5,494.0 294.8,494.5 295.2,494.9 295.6,495.4 295.9,495.8 296.3,496.2 296.6,496.7 297.0,497.1 297.3,497.5 297.7,497.9 298.0,498.3 298.4,498.7 300.3,500.8 302.2,502.7 304.1,504.6 306.0,506.3 307.9,507.9 309.8,509.5 311.7,510.9 313.6,512.3 315.5,513.6 317.4,514.8 319.3,516.0 321.2,517.1 323.1,518.1 325.0,519.0 326.9,519.9 328.8,520.8 330.7,521.6 332.6,522.4 334.5,523.1 336.4,523.8 338.3,524.4 340.2,525.0 342.1,525.6 344.0,526.1 345.9,526.6 347.8,527.1 349.7,527.5 351.6,527.9 353.5,528.3 355.4,528.7 357.3,529.1 359.2,529.4 361.1,529.7 363.0,530.0 364.9,530.3 366.8,530.6 368.7,530.8 370.6,531.0 372.5,531.3 374.4,531.5 376.3,531.7 378.2,531.9 380.1,532.0 382.0,532.2 383.9,532.3 385.8,532.5 387.7,532.6 389.6,532.8 391.5,532.9 393.4,533.0 395.3,533.1 397.2,533.2 399.1,533.3 401.0,533.4 402.9,533.5 404.8,533.5 406.7,533.6 408.6,533.7 410.5,533.7 412.3,533.8 414.2,533.9 416.1,533.9 418.0,534.0 419.9,534.0 421.8,534.1 423.7,534.1 425.6,534.1 427.5,534.2 429.4,534.2 431.3,534.2 433.2,534.3 435.1,534.3 437.0,534.3 438.9,534.3 440.8,534.4 442.7,534.4 444.6,534.4 446.5,534.4 448.4,534.4 450.3,534.5 452.2,534.5 454.1,534.5 456.0,534.5 457.9,534.5 459.8,534.5 461.7,534.5 463.6,534.5 465.5,534.5 467.4,534.5 469.3,534.5 471.2,534.6 473.1,534.6 475.0,534.6 476.9,534.6 478.8,534.6 480.7,534.6 482.6,534.6 484.5,534.6 486.4,534.6 488.3,534.6 490.2,534.6 492.1,534.6 494.0,534.6 495.9,534.6 497.8,534.6 499.7,534.6 501.6,534.6 503.5,534.6 505.4,534.6 507.3,534.6 509.2,534.6 511.1,534.6 513.0,534.6 514.9,534.6 516.8,534.6 518.7,534.6 520.6,534.5 522.5,534.5 524.4,534.5" stroke="#000000" stroke-width="3.3" stroke-dasharray="6 6.4"/>
<polyline points="241.9,323.4 242.3,326.0 242.6,328.7 243.0,331.2 243.3,333.8 243.7,336.3 244.0,338.8 244.4,341.3 244.7,343.7 245.1,346.1 245.5,348.5 245.8,350.8 246.2,353.1 246.5,355.4 246.9,357.7 247.2,359.9 247.6,362.1 247.9,364.3 248.3,366.5 248.7,368.6 249.0,370.7 249.4,372.8 249.7,374.9 250.1,376.9 250.4,378.9 250.8,380.9 251.1,382.9 251.5,384.8 251.8,386.7 252.2,388.6 252.6,390.5 252.9,392.4 253.3,394.2 253.6,396.0 254.0,397.8 254.3,399.5 254.7,401.3 255.0,403.0 255.4,404.7 255.8,406.4 256.1,408.1 256.5,409.7 256.8,411.3 257.2,412.9 257.5,414.5 257.9,416.1 258.2,417.6 258.6,419.2 259.0,420.7 259.3,422.2 259.7,423.6 260.0,425.1 260.4,426.5 260.7,428.0 261.1,429.4 261.4,430.8 261.8,432.1 262.2,433.5 262.5,434.8 262.9,436.2 263.2,437.5 263.6,438.8 263.9,440.0 264.3,441.3 264.6,442.5 265.0,443.8 265.4,445.0 265.7,446.2 266.1,447.4 266.4,448.6 266.8,449.7 267.1,450.9 267.5,452.0 267.8,453.1 268.2,454.2 268.6,455.3 268.9,456.4 269.3,457.5 269.6,458.5 270.0,459.5 270.3,460.6 270.7,461.6 271.0,462.6 271.4,463.6 271.7,464.6 272.1,465.5 272.5,466.5 272.8,467.4 273.2,468.4 273.5,469.3 273.9,470.2 274.2,471.1 274.6,472.0 274.9,472.9 275.3,473.7 275.7,474.6 276.0,475.4 276.4,476.3 276.7,477.1 277.1,477.9 277.4,478.7 277.8,479.5 278.1,480.3 278.5,481.1 278.9,481.8 279.2,482.6 279.6,483.3 279.9,484.1 280.3,484.8 280.6,485.5 281.0,486.2 281.3,486.9 281.7,487.6 282.1,488.3 282.4,489.0 282.8,489.6 283.1,490.3 283.5,491.0 283.8,491.6 284.2,492.2 284.5,492.9 284.9,493.5 285.3,494.1 285.6,494.7 286.0,495.3 286.3,495.9 286.7,496.5 287.0,497.0 287.4,497.6 287.7,498.2 288.1,498.7 288.5,499.3 288.8,499.8 289.2,500.4 289.5,500.9 289.9,501.4 290.2,501.9 290.6,502.4 290.9,502.9 291.3,503.4 291.6,503.9 292.0,504.4 292.4,504.9 292.7,505.3 293.1,505.8 293.4,506.3 293.8,506.7 294.1,507.2 294.5,507.6 294.8,508.0 295.2,508.5 295.6,508.9 295.9,509.3 296.3,509.7 296.6,510.1 297.0,510.5 297.3,510.9 297.7,511.3 298.0,511.7 298.4,512.1 300.3,514.1 302.2,515.9 304.1,517.6 306.0,519.2 307.9,520.7 309.8,522.1 311.7,523.4 313.6,524.6 315.5,525.7 317.4,526.7 319.3,527.7 321.2,528.6 323.1,529.4 325.0,530.2 326.9,530.9 328.8,531.5 330.7,532.2 332.6,532.7 334.5,533.2 336.4,533.7 338.3,534.2 340.2,534.6 342.1,534.9 344.0,535.3 345.9,535.6 347.8,535.9 349.7,536.1 351.6,536.4 353.5,536.6 355.4,536.8 357.3,536.9 359.2,537.1 361.1,537.2 363.0,537.4 364.9,537.5 366.8,537.6 368.7,537.6 370.6,537.7 372.5,537.8 374.4,537.8 376.3,537.9 378.2,537.9 380.1,537.9 382.0,537.9 383.9,538.0 385.8,538.0 387.7,538.0 389.6,538.0 391.5,538.0 393.4,537.9 395.3,537.9 397.2,537.9 399.1,537.9 401.0,537.8 402.9,537.8 404.8,537.8 406.7,537.7 408.6,537.7 410.5,537.7 412.3,537.6 414.2,537.6 416.1,537.5 418.0,537.5 419.9,537.5 421.8,537.4 423.7,537.4 425.6,537.3 427.5,537.3 429.4,537.2 431.3,537.2 433.2,537.1 435.1,537.1 437.0,537.0 438.9,537.0 440.8,536.9 442.7,536.9 444.6,536.8 446.5,536.8 448.4,536.7 450.3,536.7 452.2,536.7 454.1,536.6 456.0,536.6 457.9,536.5 459.8,536.5 461.7,536.4 463.6,536.4 465.5,536.3 467.4,536.3 469.3,536.3 471.2,536.2 473.1,536.2 475.0,536.1 476.9,536.1 478.8,536.1 480.7,536.0 482.6,536.0 484.5,536.0 486.4,535.9 488.3,535.9 490.2,535.9 492.1,535.8 494.0,535.8 495.9,535.8 497.8,535.7 499.7,535.7 501.6,535.7 503.5,535.6 505.4,535.6 507.3,535.6 509.2,535.5 511.1,535.5 513.0,535.5 514.9,535.5 516.8,535.4 518.7,535.4 520.6,535.4 522.5,535.4 524.4,535.3" stroke="#000000" stroke-width="3.3" stroke-dasharray="6 6.4"/>
<polyline points="241.9,323.4 242.3,326.5 242.6,329.6 243.0,332.6 243.3,335.6 243.7,338.6 244.0,341.5 244.4,344.4 244.7,347.2 245.1,350.0 245.5,352.8 245.8,355.5 246.2,358.2 246.5,360.8 246.9,363.4 247.2,366.0 247.6,368.6 247.9,371.1 248.3,373.5 248.7,376.0 249.0,378.4 249.4,380.8 249.7,383.1 250.1,385.4 250.4,387.7 250.8,390.0 251.1,392.2 251.5,394.4 251.8,396.5 252.2,398.7 252.6,400.8 252.9,402.9 253.3,404.9 253.6,406.9 254.0,408.9 254.3,410.9 254.7,412.8 255.0,414.7 255.4,416.6 255.8,418.5 256.1,420.3 256.5,422.1 256.8,423.9 257.2,425.7 257.5,427.4 257.9,429.1 258.2,430.8 258.6,432.5 259.0,434.2 259.3,435.8 259.7,437.4 260.0,439.0 260.4,440.5 260.7,442.1 261.1,443.6 261.4,445.1 261.8,446.6 262.2,448.0 262.5,449.4 262.9,450.9 263.2,452.3 263.6,453.6 263.9,455.0 264.3,456.3 264.6,457.7 265.0,459.0 265.4,460.3 265.7,461.5 266.1,462.8 266.4,464.0 266.8,465.2 267.1,466.4 267.5,467.6 267.8,468.8 268.2,470.0 268.6,471.1 268.9,472.2 269.3,473.3 269.6,474.4 270.0,475.5 270.3,476.6 270.7,477.6 271.0,478.6 271.4,479.7 271.7,480.7 272.1,481.7 272.5,482.6 272.8,483.6 273.2,484.6 273.5,485.5 273.9,486.4 274.2,487.3 274.6,488.2 274.9,489.1 275.3,490.0 275.7,490.9 276.0,491.7 276.4,492.5 276.7,493.4 277.1,494.2 277.4,495.0 277.8,495.8 278.1,496.6 278.5,497.3 278.9,498.1 279.2,498.8 279.6,499.6 279.9,500.3 280.3,501.0 280.6,501.7 281.0,502.4 281.3,503.1 281.7,503.8 282.1,504.5 282.4,505.1 282.8,505.8 283.1,506.4 283.5,507.1 283.8,507.7 284.2,508.3 284.5,508.9 284.9,509.5 285.3,510.1 285.6,510.7 286.0,511.3 286.3,511.8 286.7,512.4 287.0,512.9 287.4,513.5 287.7,514.0 288.1,514.5 288.5,515.0 288.8,515.6 289.2,516.1 289.5,516.6 289.9,517.0 290.2,517.5 290.6,518.0 290.9,518.5 291.3,518.9 291.6,519.4 292.0,519.8 292.4,520.3 292.7,520.7 293.1,521.1 293.4,521.6 293.8,522.0 294.1,522.4 294.5,522.8 294.8,523.2 295.2,523.6 295.6,524.0 295.9,524.3 296.3,524.7 296.6,525.1 297.0,525.4 297.3,525.8 297.7,526.2 298.0,526.5 298.4,526.8 300.3,528.6 302.2,530.2 304.1,531.7 306.0,533.0 307.9,534.3 309.8,535.4 311.7,536.5 313.6,537.4 315.5,538.3 317.4,539.1 319.3,539.8 321.2,540.5 323.1,541.1 325.0,541.6 326.9,542.1 328.8,542.5 330.7,542.9 332.6,543.2 334.5,543.5 336.4,543.8 338.3,544.0 340.2,544.2 342.1,544.4 344.0,544.5 345.9,544.6 347.8,544.7 349.7,544.8 351.6,544.8 353.5,544.8 355.4,544.9 357.3,544.8 359.2,544.8 361.1,544.8 363.0,544.7 364.9,544.7 366.8,544.6 368.7,544.5 370.6,544.4 372.5,544.3 374.4,544.2 376.3,544.1 378.2,544.0 380.1,543.9 382.0,543.8 383.9,543.7 385.8,543.5 387.7,543.4 389.6,543.3 391.5,543.1 393.4,543.0 395.3,542.8 397.2,542.7 399.1,542.6 401.0,542.4 402.9,542.3 404.8,542.1 406.7,542.0 408.6,541.8 410.5,541.7 412.3,541.5 414.2,541.4 416.1,541.3 418.0,541.1 419.9,541.0 421.8,540.8 423.7,540.7 425.6,540.6 427.5,540.4 429.4,540.3 431.3,540.2 433.2,540.1 435.1,539.9 437.0,539.8 438.9,539.7 440.8,539.6 442.7,539.4 444.6,539.3 446.5,539.2 448.4,539.1 450.3,539.0 452.2,538.9 454.1,538.8 456.0,538.6 457.9,538.5 459.8,538.4 461.7,538.3 463.6,538.2 465.5,538.1 467.4,538.0 469.3,538.0 471.2,537.9 473.1,537.8 475.0,537.7 476.9,537.6 478.8,537.5 480.7,537.4 482.6,537.4 484.5,537.3 486.4,537.2 488.3,537.1 490.2,537.0 492.1,537.0 494.0,536.9 495.9,536.8 497.8,536.8 499.7,536.7 501.6,536.6 503.5,536.6 505.4,536.5 507.3,536.4 509.2,536.4 511.1,536.3 513.0,536.3 514.9,536.2 516.8,536.2 518.7,536.1 520.6,536.0 522.5,536.0 524.4,535.9" stroke="#000000" stroke-width="3.3" stroke-dasharray="6 6.4"/>
<polyline points="241.9,323.4 242.3,325.6 242.6,327.8 243.0,330.0 243.3,332.1 243.7,334.3 244.0,336.4 244.4,338.5 244.7,340.5 245.1,342.6 245.5,344.6 245.8,346.6 246.2,348.5 246.5,350.5 246.9,352.4 247.2,354.3 247.6,356.2 247.9,358.1 248.3,359.9 248.7,361.7 249.0,363.5 249.4,365.3 249.7,367.1 250.1,368.8 250.4,370.5 250.8,372.3 251.1,373.9 251.5,375.6 251.8,377.3 252.2,378.9 252.6,380.5 252.9,382.1 253.3,383.7 253.6,385.3 254.0,386.8 254.3,388.3 254.7,389.8 255.0,391.3 255.4,392.8 255.8,394.3 256.1,395.7 256.5,397.2 256.8,398.6 257.2,400.0 257.5,401.4 257.9,402.8 258.2,404.1 258.6,405.5 259.0,406.8 259.3,408.1 259.7,409.4 260.0,410.7 260.4,411.9 260.7,413.2 261.1,414.5 261.4,415.7 261.8,416.9 262.2,418.1 262.5,419.3 262.9,420.5 263.2,421.6 263.6,422.8 263.9,423.9 264.3,425.1 264.6,426.2 265.0,427.3 265.4,428.4 265.7,429.5 266.1,430.5 266.4,431.6 266.8,432.6 267.1,433.7 267.5,434.7 267.8,435.7 268.2,436.7 268.6,437.7 268.9,438.7 269.3,439.6 269.6,440.6 270.0,441.5 270.3,442.5 270.7,443.4 271.0,444.3 271.4,445.2 271.7,446.1 272.1,447.0 272.5,447.9 272.8,448.8 273.2,449.6 273.5,450.5 273.9,451.3 274.2,452.2 274.6,453.0 274.9,453.8 275.3,454.6 275.7,455.4 276.0,456.2 276.4,457.0 276.7,457.8 277.1,458.5 277.4,459.3 277.8,460.1 278.1,460.8 278.5,461.5 278.9,462.3 279.2,463.0 279.6,463.7 279.9,464.4 280.3,465.1 280.6,465.8 281.0,466.5 281.3,467.1 281.7,467.8 282.1,468.5 282.4,469.1 282.8,469.8 283.1,470.4 283.5,471.0 283.8,471.7 284.2,472.3 284.5,472.9 284.9,473.5 285.3,474.1 285.6,474.7 286.0,475.3 286.3,475.9 286.7,476.4 287.0,477.0 287.4,477.6 287.7,478.1 288.1,478.7 288.5,479.2 288.8,479.8 289.2,480.3 289.5,480.8 289.9,481.3 290.2,481.9 290.6,482.4 290.9,482.9 291.3,483.4 291.6,483.9 292.0,484.4 292.4,484.9 292.7,485.3 293.1,485.8 293.4,486.3 293.8,486.7 294.1,487.2 294.5,487.7 294.8,488.1 295.2,488.6 295.6,489.0 295.9,489.4 296.3,489.9 296.6,490.3 297.0,490.7 297.3,491.1 297.7,491.6 298.0,492.0 298.4,492.4 300.3,494.5 302.2,496.5 304.1,498.4 306.0,500.1 307.9,501.8 309.8,503.4 311.7,504.9 313.6,506.4 315.5,507.7 317.4,509.0 319.3,510.2 321.2,511.4 323.1,512.5 325.0,513.5 326.9,514.5 328.8,515.4 330.7,516.3 332.6,517.1 334.5,517.9 336.4,518.7 338.3,519.4 340.2,520.1 342.1,520.7 344.0,521.3 345.9,521.9 347.8,522.5 349.7,523.0 351.6,523.5 353.5,524.0 355.4,524.4 357.3,524.8 359.2,525.2 361.1,525.6 363.0,526.0 364.9,526.4 366.8,526.7 368.7,527.0 370.6,527.3 372.5,527.6 374.4,527.9 376.3,528.1 378.2,528.4 380.1,528.6 382.0,528.8 383.9,529.0 385.8,529.2 387.7,529.4 389.6,529.6 391.5,529.8 393.4,530.0 395.3,530.1 397.2,530.3 399.1,530.4 401.0,530.6 402.9,530.7 404.8,530.8 406.7,531.0 408.6,531.1 410.5,531.2 412.3,531.3 414.2,531.4 416.1,531.5 418.0,531.6 419.9,531.7 421.8,531.8 423.7,531.8 425.6,531.9 427.5,532.0 429.4,532.1 431.3,532.1 433.2,532.2 435.1,532.3 437.0,532.3 438.9,532.4 440.8,532.4 442.7,532.5 444.6,532.5 446.5,532.6 448.4,532.6 450.3,532.7 452.2,532.7 454.1,532.8 456.0,532.8 457.9,532.8 459.8,532.9 461.7,532.9 463.6,532.9 465.5,533.0 467.4,533.0 469.3,533.0 471.2,533.1 473.1,533.1 475.0,533.1 476.9,533.1 478.8,533.2 480.7,533.2 482.6,533.2 484.5,533.2 486.4,533.3 488.3,533.3 490.2,533.3 492.1,533.3 494.0,533.3 495.9,533.4 497.8,533.4 499.7,533.4 501.6,533.4 503.5,533.4 505.4,533.4 507.3,533.5 509.2,533.5 511.1,533.5 513.0,533.5 514.9,533.5 516.8,533.5 518.7,533.5 520.6,533.5 522.5,533.6 524.4,533.6" stroke="#ff0000" stroke-width="3.3" stroke-dasharray="6.8 3.4 1.3 3.5"/>
<polyline points="241.9,323.4 242.3,325.9 242.6,328.4 243.0,330.8 243.3,333.2 243.7,335.6 244.0,338.0 244.4,340.3 244.7,342.6 245.1,344.9 245.5,347.1 245.8,349.4 246.2,351.6 246.5,353.8 246.9,355.9 247.2,358.0 247.6,360.1 247.9,362.2 248.3,364.3 248.7,366.3 249.0,368.3 249.4,370.3 249.7,372.2 250.1,374.2 250.4,376.1 250.8,378.0 251.1,379.9 251.5,381.7 251.8,383.5 252.2,385.4 252.6,387.1 252.9,388.9 253.3,390.7 253.6,392.4 254.0,394.1 254.3,395.8 254.7,397.4 255.0,399.1 255.4,400.7 255.8,402.3 256.1,403.9 256.5,405.5 256.8,407.0 257.2,408.6 257.5,410.1 257.9,411.6 258.2,413.1 258.6,414.6 259.0,416.0 259.3,417.4 259.7,418.9 260.0,420.3 260.4,421.6 260.7,423.0 261.1,424.4 261.4,425.7 261.8,427.0 262.2,428.3 262.5,429.6 262.9,430.9 263.2,432.2 263.6,433.4 263.9,434.6 264.3,435.8 264.6,437.0 265.0,438.2 265.4,439.4 265.7,440.6 266.1,441.7 266.4,442.9 266.8,444.0 267.1,445.1 267.5,446.2 267.8,447.3 268.2,448.3 268.6,449.4 268.9,450.4 269.3,451.5 269.6,452.5 270.0,453.5 270.3,454.5 270.7,455.5 271.0,456.5 271.4,457.4 271.7,458.4 272.1,459.3 272.5,460.3 272.8,461.2 273.2,462.1 273.5,463.0 273.9,463.9 274.2,464.7 274.6,465.6 274.9,466.5 275.3,467.3 275.7,468.2 276.0,469.0 276.4,469.8 276.7,470.6 277.1,471.4 277.4,472.2 277.8,473.0 278.1,473.7 278.5,474.5 278.9,475.3 279.2,476.0 279.6,476.7 279.9,477.5 280.3,478.2 280.6,478.9 281.0,479.6 281.3,480.3 281.7,481.0 282.1,481.6 282.4,482.3 282.8,483.0 283.1,483.6 283.5,484.3 283.8,484.9 284.2,485.5 284.5,486.2 284.9,486.8 285.3,487.4 285.6,488.0 286.0,488.6 286.3,489.2 286.7,489.7 287.0,490.3 287.4,490.9 287.7,491.4 288.1,492.0 288.5,492.5 288.8,493.1 289.2,493.6 289.5,494.1 289.9,494.7 290.2,495.2 290.6,495.7 290.9,496.2 291.3,496.7 291.6,497.2 292.0,497.7 292.4,498.1 292.7,498.6 293.1,499.1 293.4,499.6 293.8,500.0 294.1,500.5 294.5,500.9 294.8,501.3 295.2,501.8 295.6,502.2 295.9,502.6 296.3,503.1 296.6,503.5 297.0,503.9 297.3,504.3 297.7,504.7 298.0,505.1 298.4,505.5 300.3,507.5 302.2,509.4 304.1,511.1 306.0,512.8 307.9,514.4 309.8,515.8 311.7,517.2 313.6,518.4 315.5,519.6 317.4,520.8 319.3,521.8 321.2,522.8 323.1,523.7 325.0,524.5 326.9,525.3 328.8,526.1 330.7,526.8 332.6,527.4 334.5,528.0 336.4,528.6 338.3,529.1 340.2,529.6 342.1,530.1 344.0,530.5 345.9,530.9 347.8,531.3 349.7,531.6 351.6,531.9 353.5,532.2 355.4,532.5 357.3,532.8 359.2,533.0 361.1,533.2 363.0,533.4 364.9,533.6 366.8,533.8 368.7,533.9 370.6,534.1 372.5,534.2 374.4,534.3 376.3,534.4 378.2,534.5 380.1,534.6 382.0,534.7 383.9,534.8 385.8,534.9 387.7,534.9 389.6,535.0 391.5,535.0 393.4,535.1 395.3,535.1 397.2,535.1 399.1,535.2 401.0,535.2 402.9,535.2 404.8,535.2 406.7,535.3 408.6,535.3 410.5,535.3 412.3,535.3 414.2,535.3 416.1,535.3 418.0,535.3 419.9,535.3 421.8,535.3 423.7,535.3 425.6,535.3 427.5,535.3 429.4,535.2 431.3,535.2 433.2,535.2 435.1,535.2 437.0,535.2 438.9,535.2 440.8,535.2 442.7,535.2 444.6,535.1 446.5,535.1 448.4,535.1 450.3,535.1 452.2,535.1 454.1,535.1 456.0,535.0 457.9,535.0 459.8,535.0 461.7,535.0 463.6,535.0 465.5,535.0 467.4,534.9 469.3,534.9 471.2,534.9 473.1,534.9 475.0,534.9 476.9,534.8 478.8,534.8 480.7,534.8 482.6,534.8 484.5,534.8 486.4,534.8 488.3,534.7 490.2,534.7 492.1,534.7 494.0,534.7 495.9,534.7 497.8,534.7 499.7,534.7 501.6,534.6 503.5,534.6 505.4,534.6 507.3,534.6 509.2,534.6 511.1,534.6 513.0,534.6 514.9,534.5 516.8,534.5 518.7,534.5 520.6,534.5 522.5,534.5 524.4,534.5" stroke="#ff0000" stroke-width="3.3" stroke-dasharray="6.8 3.4 1.3 3.5"/>
<polyline points="241.9,323.4 242.3,326.2 242.6,329.0 243.0,331.7 243.3,334.4 243.7,337.1 244.0,339.7 244.4,342.3 244.7,344.9 245.1,347.4 245.5,349.9 245.8,352.4 246.2,354.9 246.5,357.3 246.9,359.7 247.2,362.0 247.6,364.4 247.9,366.7 248.3,368.9 248.7,371.2 249.0,373.4 249.4,375.6 249.7,377.8 250.1,379.9 250.4,382.0 250.8,384.1 251.1,386.2 251.5,388.2 251.8,390.2 252.2,392.2 252.6,394.2 252.9,396.1 253.3,398.0 253.6,399.9 254.0,401.8 254.3,403.6 254.7,405.4 255.0,407.2 255.4,409.0 255.8,410.8 256.1,412.5 256.5,414.2 256.8,415.9 257.2,417.6 257.5,419.2 257.9,420.9 258.2,422.5 258.6,424.1 259.0,425.6 259.3,427.2 259.7,428.7 260.0,430.2 260.4,431.7 260.7,433.2 261.1,434.7 261.4,436.1 261.8,437.5 262.2,438.9 262.5,440.3 262.9,441.7 263.2,443.0 263.6,444.4 263.9,445.7 264.3,447.0 264.6,448.3 265.0,449.5 265.4,450.8 265.7,452.0 266.1,453.2 266.4,454.5 266.8,455.6 267.1,456.8 267.5,458.0 267.8,459.1 268.2,460.3 268.6,461.4 268.9,462.5 269.3,463.6 269.6,464.7 270.0,465.7 270.3,466.8 270.7,467.8 271.0,468.8 271.4,469.8 271.7,470.8 272.1,471.8 272.5,472.8 272.8,473.7 273.2,474.7 273.5,475.6 273.9,476.6 274.2,477.5 274.6,478.4 274.9,479.3 275.3,480.1 275.7,481.0 276.0,481.9 276.4,482.7 276.7,483.5 277.1,484.4 277.4,485.2 277.8,486.0 278.1,486.8 278.5,487.5 278.9,488.3 279.2,489.1 279.6,489.8 279.9,490.6 280.3,491.3 280.6,492.0 281.0,492.7 281.3,493.4 281.7,494.1 282.1,494.8 282.4,495.5 282.8,496.2 283.1,496.8 283.5,497.5 283.8,498.1 284.2,498.8 284.5,499.4 284.9,500.0 285.3,500.6 285.6,501.2 286.0,501.8 286.3,502.4 286.7,503.0 287.0,503.5 287.4,504.1 287.7,504.6 288.1,505.2 288.5,505.7 288.8,506.3 289.2,506.8 289.5,507.3 289.9,507.8 290.2,508.3 290.6,508.8 290.9,509.3 291.3,509.8 291.6,510.3 292.0,510.8 292.4,511.2 292.7,511.7 293.1,512.1 293.4,512.6 293.8,513.0 294.1,513.5 294.5,513.9 294.8,514.3 295.2,514.7 295.6,515.2 295.9,515.6 296.3,516.0 296.6,516.4 297.0,516.7 297.3,517.1 297.7,517.5 298.0,517.9 298.4,518.3 300.3,520.1 302.2,521.9 304.1,523.5 306.0,525.0 307.9,526.4 309.8,527.7 311.7,528.9 313.6,530.0 315.5,531.0 317.4,532.0 319.3,532.8 321.2,533.6 323.1,534.4 325.0,535.0 326.9,535.6 328.8,536.2 330.7,536.7 332.6,537.2 334.5,537.6 336.4,538.0 338.3,538.3 340.2,538.6 342.1,538.9 344.0,539.1 345.9,539.3 347.8,539.5 349.7,539.7 351.6,539.8 353.5,540.0 355.4,540.1 357.3,540.1 359.2,540.2 361.1,540.3 363.0,540.3 364.9,540.3 366.8,540.4 368.7,540.4 370.6,540.4 372.5,540.3 374.4,540.3 376.3,540.3 378.2,540.2 380.1,540.2 382.0,540.2 383.9,540.1 385.8,540.0 387.7,540.0 389.6,539.9 391.5,539.8 393.4,539.8 395.3,539.7 397.2,539.6 399.1,539.5 401.0,539.4 402.9,539.3 404.8,539.3 406.7,539.2 408.6,539.1 410.5,539.0 412.3,538.9 414.2,538.8 416.1,538.7 418.0,538.6 419.9,538.5 421.8,538.4 423.7,538.4 425.6,538.3 427.5,538.2 429.4,538.1 431.3,538.0 433.2,537.9 435.1,537.8 437.0,537.7 438.9,537.7 440.8,537.6 442.7,537.5 444.6,537.4 446.5,537.3 448.4,537.3 450.3,537.2 452.2,537.1 454.1,537.0 456.0,537.0 457.9,536.9 459.8,536.8 461.7,536.7 463.6,536.7 465.5,536.6 467.4,536.5 469.3,536.5 471.2,536.4 473.1,536.3 475.0,536.3 476.9,536.2 478.8,536.2 480.7,536.1 482.6,536.0 484.5,536.0 486.4,535.9 488.3,535.9 490.2,535.8 492.1,535.8 494.0,535.7 495.9,535.7 497.8,535.6 499.7,535.6 501.6,535.5 503.5,535.5 505.4,535.4 507.3,535.4 509.2,535.3 511.1,535.3 513.0,535.3 514.9,535.2 516.8,535.2 518.7,535.1 520.6,535.1 522.5,535.1 524.4,535.0" stroke="#ff0000" stroke-width="3.3" stroke-dasharray="6.8 3.4 1.3 3.5"/>
</g>
<g stroke="#555" stroke-width="0.9" fill="none">
<line x1="241.90" y1="555.05" x2="241.90" y2="552.25"/>
<line x1="241.90" y1="323.40" x2="241.90" y2="326.20"/>
<line x1="383.15" y1="555.05" x2="383.15" y2="552.25"/>
<line x1="383.15" y1="323.40" x2="383.15" y2="326.20"/>
<line x1="524.40" y1="555.05" x2="524.40" y2="552.25"/>
<line x1="524.40" y1="323.40" x2="524.40" y2="326.20"/>
<line x1="241.90" y1="327.61" x2="244.70" y2="327.61"/>
<line x1="524.40" y1="327.61" x2="521.60" y2="327.61"/>
<line x1="241.90" y1="403.42" x2="244.70" y2="403.42"/>
<line x1="524.40" y1="403.42" x2="521.60" y2="403.42"/>
<line x1="241.90" y1="479.24" x2="244.70" y2="479.24"/>
<line x1="524.40" y1="479.24" x2="521.60" y2="479.24"/>
<line x1="241.90" y1="555.05" x2="244.70" y2="555.05"/>
<line x1="524.40" y1="555.05" x2="521.60" y2="555.05"/>
</g>
<rect x="241.90" y="323.40" width="282.50" height="231.65" fill="none" stroke="#262626" stroke-width="1.25"/>
<text x="238.60" y="332.81" font-size="14.5" text-anchor="end" font-weight="bold" font-style="normal" fill="#000" >0.98</text>
<text x="238.60" y="408.62" font-size="14.5" text-anchor="end" font-weight="bold" font-style="normal" fill="#000" >0.62</text>
<text x="238.60" y="484.44" font-size="14.5" text-anchor="end" font-weight="bold" font-style="normal" fill="#000" >0.26</text>
<text x="238.60" y="560.25" font-size="14.5" text-anchor="end" font-weight="bold" font-style="normal" fill="#000" >&#8722;0.1</text>
<text x="241.90" y="570.50" font-size="14.5" text-anchor="middle" font-weight="bold" font-style="normal" fill="#000" >0</text>
<text x="383.15" y="570.50" font-size="14.5" text-anchor="middle" font-weight="bold" font-style="normal" fill="#000" >1</text>
<text x="524.40" y="570.50" font-size="14.5" text-anchor="middle" font-weight="bold" font-style="normal" fill="#000" >2</text>
<g transform="translate(373.60,570.10) scale(0.95)" fill="none" stroke="#000" stroke-linecap="round"><path d="M11.6 5.5 C9.6 5.9 7.9 6.5 7.5 7.7 L7.4 11.2 M7.4 11.2 L12.6 11.0" stroke-width="1.35"/><path d="M8.6 11.6 C5.6 12.6 4.6 15 5.3 17.3 C6.3 19.6 10 19.1 12.4 20.0 C14.2 20.9 13.8 23 10.6 24.6" stroke-width="1.75"/><circle cx="6.6" cy="5.8" r="1.15" fill="#000" stroke="none"/></g>
<g transform="translate(200.10,454.20) rotate(-90) scale(0.970,1.000)"><text x="0" y="0" font-size="21" font-weight="normal" fill="#000">&#952;(</text><g transform="translate(12.60,-20.80) scale(1.0)" fill="none" stroke="#000" stroke-linecap="round"><path d="M11.6 5.5 C9.6 5.9 7.9 6.5 7.5 7.7 L7.4 11.2 M7.4 11.2 L12.6 11.0" stroke-width="1.35"/><path d="M8.6 11.6 C5.6 12.6 4.6 15 5.3 17.3 C6.3 19.6 10 19.1 12.4 20.0 C14.2 20.9 13.8 23 10.6 24.6" stroke-width="1.75"/><circle cx="6.6" cy="5.8" r="1.15" fill="#000" stroke="none"/></g><text x="26.6" y="0" font-size="21" font-weight="normal" fill="#000">)</text></g>
<rect x="381.3" y="328.1" width="137.5" height="52.6" fill="#fff" stroke="#2a2a2a" stroke-width="1.2"/>
<line x1="387.9" y1="337.8" x2="420.7" y2="337.8" fill="none" stroke="#1e3cff" stroke-width="3.3" stroke-dashoffset="0"/>
<text x="425.70" y="343.20" font-size="14.6" text-anchor="start" font-weight="bold" font-style="normal" fill="#000" textLength="62.9" lengthAdjust="spacingAndGlyphs" >momo NF</text>
<line x1="387.9" y1="354.4" x2="420.7" y2="354.4" fill="none" stroke="#000000" stroke-width="3.3" stroke-dasharray="6 6.4" stroke-dashoffset="0"/>
<text x="425.70" y="359.20" font-size="14.6" text-anchor="start" font-weight="bold" font-style="normal" fill="#000" textLength="66.6" lengthAdjust="spacingAndGlyphs" >hybrid NF</text>
<line x1="387.9" y1="370.2" x2="420.7" y2="370.2" fill="none" stroke="#ff0000" stroke-width="3.3" stroke-dasharray="1.5 3.5 7.5 3"/>
<text x="425.70" y="375.20" font-size="14.6" text-anchor="start" font-weight="bold" font-style="normal" fill="#000" textLength="90.7" lengthAdjust="spacingAndGlyphs" >tri&#8722;hybrid NF</text>
<text x="334.90" y="471.90" font-size="20" text-anchor="start" font-weight="bold" font-style="italic" fill="#000" textLength="128.1" lengthAdjust="spacingAndGlyphs" >Ec=0.5,1.5,2.5</text>
<line x1="271.2" y1="535.3" x2="333.2" y2="498.9" stroke="#1e3cff" stroke-width="2.4"/><polygon points="340.6,494.5 333.7,504.1 328.9,495.9" fill="#1e3cff" stroke="#1e3cff" stroke-width="1" stroke-linejoin="round"/>
<text x="355.80" y="614.80" font-size="18.5" text-anchor="middle" font-weight="bold" font-style="normal" fill="#ff0000" >(c)</text>
</svg>
</body></html>
